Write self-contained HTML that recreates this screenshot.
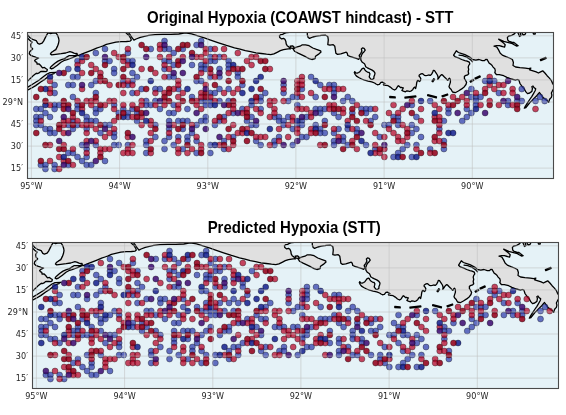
<!DOCTYPE html>
<html><head><meta charset="utf-8"><style>
html,body{margin:0;padding:0;background:#fff;}
svg{display:block;}
</style></head><body>
<svg width="566" height="415" viewBox="0 0 566 415">
<defs>
<clipPath id="clip"><rect x="27" y="32" width="527" height="147"/></clipPath>
<g id="base">
<rect x="27" y="32" width="526" height="146" fill="#e5f2f7"/>
<polygon points="15.0,15.0 15.0,35.2 27.9,35.2 29.7,37.5 32.5,39.3 36.2,40.7 37.8,43.4 39.4,44.1 42.1,43.2 43.6,41.1 45.2,37.9 46.8,34.8 47.8,33.2 48.9,32.9 50.5,33.7 52.6,33.2 54.7,32.9 56.3,33.4 57.6,35.3 58.7,38.5 59.0,40.6 58.4,43.8 57.4,46.4 55.8,49.6 53.6,50.9 51.3,52.6 50.4,54.0 51.7,54.9 55.7,54.4 61.2,53.7 65.7,53.0 69.9,51.6 71.7,52.1 74.0,53.2 75.8,53.7 77.0,53.4 77.2,55.0 78.3,55.6 82.9,53.7 87.5,51.9 92.0,50.1 96.6,48.2 100.0,47.0 103.2,45.9 106.4,44.3 110.6,43.3 115.9,42.2 121.2,41.7 126.5,41.5 130.2,41.1 131.3,40.1 130.8,38.5 129.2,35.8 127.0,33.7 125.5,32.3 125.5,15.0" fill="#e0e0e0" stroke="#000" stroke-width="1.3" stroke-linejoin="round"/>
<polygon points="15.0,38.0 27.5,38.0 29.7,40.2 32.0,42.1 30.7,44.8 31.1,47.1 32.7,48.9 31.6,50.0 29.7,51.8 29.3,53.7 30.7,55.3 33.4,56.4 36.2,57.3 38.6,58.0 36.4,59.1 34.6,60.5 35.3,61.6 36.8,62.3 37.1,64.1 38.9,63.8 40.4,65.2 41.8,67.0 42.6,67.8 44.4,67.4 45.8,68.5 47.3,69.6 47.0,71.0 45.8,71.7 43.6,71.5 41.5,71.3 40.4,71.7 38.6,73.2 37.1,73.6 36.4,73.2 35.0,74.3 32.8,76.1 30.6,78.3 28.4,80.4 27.0,81.9 15.0,88.0" fill="#e0e0e0" stroke="#000" stroke-width="1.3" stroke-linejoin="round"/>
<polygon points="15.0,96.0 27.0,87.6 32.5,84.2 38.9,80.3 43.6,76.6 47.0,74.0 50.0,72.6 55.9,72.3 54.5,73.3 51.6,74.5 48.7,76.3 45.2,79.1 40.7,82.0 35.7,85.6 31.3,88.2 27.0,90.4 15.0,97.0" fill="#e0e0e0" stroke="#000" stroke-width="1.3" stroke-linejoin="round"/>
<polygon points="50.1,68.1 50.9,66.7 54.6,63.5 58.0,61.1 61.4,59.6 64.5,58.6 67.1,56.9 68.9,55.7 72.1,55.6 75.4,55.4 77.2,55.0 77.2,55.7 75.8,56.2 73.1,57.3 70.3,58.5 67.1,59.6 64.6,60.3 61.0,62.3 57.4,65.2 53.8,67.8 51.6,68.9" fill="#e0e0e0" stroke="#000" stroke-width="1.3" stroke-linejoin="round"/>
<polygon points="128.1,15.0 128.1,32.3 129.7,34.2 131.8,37.4 133.9,40.1 136.1,39.0 140.3,37.4 144.5,36.4 148.8,35.3 153.0,34.8 155.0,34.7 162.9,34.4 170.9,34.4 178.8,34.0 185.2,32.8 191.6,33.8 197.9,35.8 204.3,37.9 210.6,40.1 218.6,42.8 226.5,45.4 234.5,47.8 240.0,49.1 245.3,50.7 250.6,51.7 255.9,52.8 261.2,53.5 266.5,54.2 270.8,54.6 273.9,53.9 277.1,52.3 280.3,50.7 283.5,49.6 286.7,49.1 289.8,48.6 290.4,48.9 289.0,47.1 287.2,45.7 286.2,43.9 285.8,41.2 284.9,39.3 283.5,38.4 281.7,38.9 279.8,37.5 279.4,35.7 280.7,34.7 282.6,34.3 284.4,33.4 287.2,32.5 291.7,32.0 294.0,15.0" fill="#e0e0e0" stroke="#000" stroke-width="1.3" stroke-linejoin="round"/>
<polygon points="293.1,48.9 296.3,47.1 300.0,46.2 302.3,44.8 305.5,44.8 309.1,45.7 312.8,48.0 316.5,49.4 320.6,50.8 321.0,52.1 318.3,54.4 315.5,56.3 315.1,58.6 311.9,59.5 309.1,58.6 305.5,56.7 301.8,54.9 298.1,53.1 294.5,51.2" fill="#e0e0e0" stroke="#000" stroke-width="1.3" stroke-linejoin="round"/>
<polygon points="290.2,46.2 292.5,45.8 294.0,47.0 293.0,48.3 291.0,48.2" fill="#e0e0e0" stroke="#000" stroke-width="1.3" stroke-linejoin="round"/>
<polygon points="307.3,15.0 307.3,34.7 308.2,37.5 309.6,38.4 312.8,37.0 316.5,36.1 320.1,35.7 321.3,35.4 325.6,35.2 327.8,36.5 328.3,39.8 327.8,44.6 329.9,45.2 333.2,44.6 334.8,46.3 335.4,50.1 335.9,53.3 337.5,54.4 340.8,53.9 344.0,52.8 346.2,52.2 347.3,53.3 347.8,55.5 350.5,56.6 353.8,57.7 357.0,58.7 358.7,59.3 359.8,57.7 359.2,55.5 360.8,53.3 361.9,51.1 361.4,49.0 362.5,47.9 364.1,48.4 365.2,50.1 364.1,51.7 362.5,53.3 361.4,55.5 360.8,57.7 360.9,60.2 362.3,62.3 364.5,63.8 365.2,65.2 365.6,66.7 367.4,67.8 369.5,68.9 371.7,69.9 373.9,71.4 375.0,73.2 374.6,75.0 373.9,76.8 373.9,78.3 372.8,79.3 371.0,79.3 369.9,77.9 369.2,76.8 369.5,75.7 369.9,73.9 369.2,72.5 367.4,72.1 365.9,71.0 364.8,69.9 364.5,68.9 363.4,68.1 362.3,68.5 361.2,69.9 360.1,71.4 358.7,72.5 357.2,73.2 355.8,72.8 354.7,71.7 354.3,72.5 355.1,74.3 356.5,76.1 358.7,77.5 361.6,79.0 364.5,80.1 368.1,81.1 371.7,81.9 374.6,83.0 376.0,84.0 377.5,84.8 378.0,84.6 379.4,84.3 380.9,82.4 382.3,82.1 383.8,82.8 384.9,83.5 383.4,84.6 383.8,85.3 386.0,85.3 388.1,85.7 390.3,87.1 392.5,89.0 394.6,90.0 396.1,89.0 397.2,87.1 398.3,85.7 399.3,86.4 400.4,87.5 401.9,87.5 403.3,87.9 402.6,89.3 401.9,90.4 403.3,91.1 405.5,91.8 406.9,90.8 408.4,91.1 409.8,91.5 411.3,90.8 412.7,89.7 413.8,87.9 414.9,87.1 415.6,88.6 416.3,85.7 416.7,82.8 417.4,80.6 418.0,80.4 418.3,80.4 419.3,81.5 420.4,80.8 420.8,78.6 420.1,77.2 419.0,76.1 419.3,75.0 420.8,73.9 422.2,73.6 423.3,74.3 424.4,75.4 425.8,75.7 427.3,75.4 428.7,75.0 430.2,75.4 431.6,74.3 432.7,72.1 433.4,70.3 434.5,70.7 436.0,72.9 437.4,75.0 438.1,77.2 437.8,79.4 438.9,77.9 440.0,76.1 441.4,74.7 442.5,75.0 443.9,76.5 445.4,77.9 446.8,79.4 447.9,80.4 448.6,79.0 449.4,78.3 450.4,79.4 450.4,82.3 449.7,84.4 449.0,86.6 449.7,88.0 451.2,89.5 451.9,90.9 452.6,92.0 455.2,92.7 458.4,91.0 461.7,88.9 464.4,86.7 466.0,84.5 466.6,82.4 465.5,80.2 464.4,78.6 464.4,76.4 466.0,75.3 467.7,74.8 468.7,73.7 468.2,71.5 468.7,69.3 468.2,67.1 468.7,65.5 469.8,63.9 469.3,62.2 467.1,61.1 464.9,60.6 461.7,59.5 458.4,57.9 455.2,56.8 453.6,55.2 456.3,50.8 458.4,52.5 461.7,53.6 464.9,54.6 468.2,56.3 470.9,57.9 472.5,59.5 475.8,60.1 479.0,59.5 482.3,60.6 484.5,60.6 485.6,59.5 487.2,59.5 488.3,61.7 489.3,63.3 491.0,64.4 492.1,65.5 493.1,67.1 494.8,68.7 495.3,70.9 494.8,72.5 496.4,74.7 499.3,74.6 503.7,75.7 506.9,77.4 511.3,79.0 515.6,80.1 517.2,79.5 518.9,80.1 519.9,83.3 522.1,86.5 524.3,89.2 525.9,91.9 527.5,93.6 529.7,93.0 531.9,91.4 532.4,88.7 531.9,86.5 533.0,86.0 534.0,87.6 535.7,88.7 535.1,90.8 533.5,93.6 531.9,96.3 529.7,99.5 527.5,102.8 525.4,106.0 524.3,108.2 525.9,107.7 527.5,105.5 529.7,102.8 531.9,100.6 534.0,98.4 536.2,96.3 538.4,93.6 539.5,92.5 540.6,94.1 542.7,97.4 544.9,99.0 547.1,100.6 548.7,102.2 549.2,100.6 549.8,99.0 551.4,97.4 551.9,95.2 551.4,93.0 552.5,90.8 553.6,88.7 565.0,86.0 565.0,84.0 553.6,84.9 552.5,83.3 551.4,80.6 549.2,77.9 547.1,75.7 544.9,73.0 542.7,70.8 540.6,71.9 538.4,73.0 536.2,71.9 533.0,70.8 529.7,69.8 530.8,68.1 528.6,68.7 525.4,68.1 519.9,67.6 515.6,67.0 513.0,65.5 513.4,62.5 512.4,59.5 509.5,58.0 505.9,56.6 502.3,55.1 500.1,53.0 498.7,50.1 497.2,47.6 495.8,46.5 494.0,46.1 496.5,45.7 499.4,45.7 502.3,46.5 504.5,47.2 505.2,44.7 504.1,43.6 502.3,42.1 498.7,39.2 500.9,40.0 503.7,41.4 506.6,42.1 509.5,42.9 512.4,43.6 514.6,45.0 516.8,46.1 518.2,45.7 516.8,44.7 515.3,43.6 513.9,42.5 511.7,42.1 509.2,41.4 507.7,40.0 507.4,37.4 508.8,36.0 511.7,35.3 513.9,34.2 516.0,32.0 517.0,15.0" fill="#e0e0e0" stroke="#000" stroke-width="1.3" stroke-linejoin="round"/>
<polygon points="389.8,97.5 395.2,97.9 395.2,96.9 389.8,96.5" fill="#e0e0e0" stroke="#000" stroke-width="1.3" stroke-linejoin="round"/>
<polygon points="405.1,98.1 415.9,96.9 415.7,95.9 404.9,97.1" fill="#e0e0e0" stroke="#000" stroke-width="1.3" stroke-linejoin="round"/>
<polygon points="427.6,95.6 436.3,97.9 436.5,96.9 427.8,94.6" fill="#e0e0e0" stroke="#000" stroke-width="1.3" stroke-linejoin="round"/>
<polygon points="442.4,96.8 447.8,95.0 447.4,94.0 442.0,95.8" fill="#e0e0e0" stroke="#000" stroke-width="1.3" stroke-linejoin="round"/>
<polygon points="433.8,78.7 432.0,81.2 432.8,81.8 434.6,79.3" fill="#e0e0e0" stroke="#000" stroke-width="1.3" stroke-linejoin="round"/>
<polygon points="470.7,82.2 473.8,80.2 473.2,79.4 470.1,81.4" fill="#e0e0e0" stroke="#000" stroke-width="1.3" stroke-linejoin="round"/>
<polygon points="475.4,79.1 480.3,76.9 479.9,75.9 475.0,78.1" fill="#e0e0e0" stroke="#000" stroke-width="1.3" stroke-linejoin="round"/>
<polygon points="540.8,60.7 546.2,58.4 545.8,57.4 540.4,59.7" fill="#e0e0e0" stroke="#000" stroke-width="1.3" stroke-linejoin="round"/>
<polygon points="533.0,32.5 535.5,32.5 535.0,34.2 533.5,34.0" fill="#e0e0e0" stroke="#000" stroke-width="1.3" stroke-linejoin="round"/>
<polygon points="517.5,32.0 520.0,32.0 521.0,35.5 519.5,36.5 518.5,34.0" fill="#e0e0e0" stroke="#000" stroke-width="1.3" stroke-linejoin="round"/>
<polygon points="521.5,32.0 526.2,32.0 525.0,34.5 523.0,35.0" fill="#e0e0e0" stroke="#000" stroke-width="1.3" stroke-linejoin="round"/>
<polyline points="459.0,55.2 462.8,55.7 466.0,56.8 468.7,58.4 470.9,60.1 472.5,61.7" fill="none" stroke="#000" stroke-width="1.3" stroke-linejoin="round" stroke-linecap="round"/>
</g>
</defs>
<rect width="566" height="415" fill="#fff"/>
<g transform="translate(0,0)">
<g clip-path="url(#clip)">
<use href="#base"/>
<g stroke="#000" stroke-opacity="0.55" stroke-width="0.6"><circle cx="164.52" cy="41.00" r="3.0" fill="#2e3aab" fill-opacity="0.72"/><circle cx="201.16" cy="41.00" r="3.0" fill="#2e3aab" fill-opacity="0.72"/><circle cx="196.58" cy="45.00" r="3.0" fill="#2e3aab" fill-opacity="0.72"/><circle cx="104.98" cy="49.00" r="3.0" fill="#2e3aab" fill-opacity="0.72"/><circle cx="150.78" cy="49.00" r="3.0" fill="#2e3aab" fill-opacity="0.72"/><circle cx="164.52" cy="49.00" r="3.0" fill="#2e3aab" fill-opacity="0.72"/><circle cx="169.10" cy="49.00" r="3.0" fill="#2e3aab" fill-opacity="0.72"/><circle cx="182.84" cy="49.00" r="3.0" fill="#2e3aab" fill-opacity="0.72"/><circle cx="210.32" cy="49.00" r="3.0" fill="#2e3aab" fill-opacity="0.72"/><circle cx="95.82" cy="53.00" r="3.0" fill="#2e3aab" fill-opacity="0.72"/><circle cx="127.88" cy="53.00" r="3.0" fill="#2e3aab" fill-opacity="0.72"/><circle cx="173.68" cy="53.00" r="3.0" fill="#2e3aab" fill-opacity="0.72"/><circle cx="210.32" cy="57.00" r="3.0" fill="#2e3aab" fill-opacity="0.72"/><circle cx="219.48" cy="57.00" r="3.0" fill="#2e3aab" fill-opacity="0.72"/><circle cx="77.50" cy="61.00" r="3.0" fill="#2e3aab" fill-opacity="0.72"/><circle cx="104.98" cy="61.00" r="3.0" fill="#2e3aab" fill-opacity="0.72"/><circle cx="109.56" cy="61.00" r="3.0" fill="#2e3aab" fill-opacity="0.72"/><circle cx="127.88" cy="61.00" r="3.0" fill="#2e3aab" fill-opacity="0.72"/><circle cx="132.46" cy="61.00" r="3.0" fill="#2e3aab" fill-opacity="0.72"/><circle cx="164.52" cy="61.00" r="3.0" fill="#2e3aab" fill-opacity="0.72"/><circle cx="169.10" cy="61.00" r="3.0" fill="#2e3aab" fill-opacity="0.72"/><circle cx="210.32" cy="61.00" r="3.0" fill="#2e3aab" fill-opacity="0.72"/><circle cx="214.90" cy="61.00" r="3.0" fill="#2e3aab" fill-opacity="0.72"/><circle cx="228.64" cy="61.00" r="3.0" fill="#2e3aab" fill-opacity="0.72"/><circle cx="173.68" cy="65.00" r="3.0" fill="#2e3aab" fill-opacity="0.72"/><circle cx="192.00" cy="65.00" r="3.0" fill="#2e3aab" fill-opacity="0.72"/><circle cx="201.16" cy="65.00" r="3.0" fill="#2e3aab" fill-opacity="0.72"/><circle cx="205.74" cy="65.00" r="3.0" fill="#2e3aab" fill-opacity="0.72"/><circle cx="228.64" cy="65.00" r="3.0" fill="#2e3aab" fill-opacity="0.72"/><circle cx="68.34" cy="69.00" r="3.0" fill="#2e3aab" fill-opacity="0.72"/><circle cx="114.14" cy="69.00" r="3.0" fill="#2e3aab" fill-opacity="0.72"/><circle cx="164.52" cy="69.00" r="3.0" fill="#2e3aab" fill-opacity="0.72"/><circle cx="201.16" cy="69.00" r="3.0" fill="#2e3aab" fill-opacity="0.72"/><circle cx="205.74" cy="69.00" r="3.0" fill="#2e3aab" fill-opacity="0.72"/><circle cx="219.48" cy="69.00" r="3.0" fill="#2e3aab" fill-opacity="0.72"/><circle cx="228.64" cy="69.00" r="3.0" fill="#2e3aab" fill-opacity="0.72"/><circle cx="114.14" cy="73.00" r="3.0" fill="#2e3aab" fill-opacity="0.72"/><circle cx="132.46" cy="73.00" r="3.0" fill="#2e3aab" fill-opacity="0.72"/><circle cx="237.80" cy="73.00" r="3.0" fill="#2e3aab" fill-opacity="0.72"/><circle cx="72.92" cy="77.00" r="3.0" fill="#2e3aab" fill-opacity="0.72"/><circle cx="77.50" cy="77.00" r="3.0" fill="#2e3aab" fill-opacity="0.72"/><circle cx="137.04" cy="77.00" r="3.0" fill="#2e3aab" fill-opacity="0.72"/><circle cx="169.10" cy="77.00" r="3.0" fill="#2e3aab" fill-opacity="0.72"/><circle cx="173.68" cy="77.00" r="3.0" fill="#2e3aab" fill-opacity="0.72"/><circle cx="210.32" cy="77.00" r="3.0" fill="#2e3aab" fill-opacity="0.72"/><circle cx="219.48" cy="77.00" r="3.0" fill="#2e3aab" fill-opacity="0.72"/><circle cx="237.80" cy="77.00" r="3.0" fill="#2e3aab" fill-opacity="0.72"/><circle cx="311.08" cy="77.00" r="3.0" fill="#2e3aab" fill-opacity="0.72"/><circle cx="95.82" cy="81.00" r="3.0" fill="#2e3aab" fill-opacity="0.72"/><circle cx="123.30" cy="81.00" r="3.0" fill="#2e3aab" fill-opacity="0.72"/><circle cx="132.46" cy="81.00" r="3.0" fill="#2e3aab" fill-opacity="0.72"/><circle cx="196.58" cy="81.00" r="3.0" fill="#2e3aab" fill-opacity="0.72"/><circle cx="201.16" cy="81.00" r="3.0" fill="#2e3aab" fill-opacity="0.72"/><circle cx="485.12" cy="81.00" r="3.0" fill="#2e3aab" fill-opacity="0.72"/><circle cx="494.28" cy="81.00" r="3.0" fill="#2e3aab" fill-opacity="0.72"/><circle cx="54.60" cy="85.00" r="3.0" fill="#2e3aab" fill-opacity="0.72"/><circle cx="68.34" cy="85.00" r="3.0" fill="#2e3aab" fill-opacity="0.72"/><circle cx="72.92" cy="85.00" r="3.0" fill="#2e3aab" fill-opacity="0.72"/><circle cx="91.24" cy="85.00" r="3.0" fill="#2e3aab" fill-opacity="0.72"/><circle cx="127.88" cy="85.00" r="3.0" fill="#2e3aab" fill-opacity="0.72"/><circle cx="242.38" cy="85.00" r="3.0" fill="#2e3aab" fill-opacity="0.72"/><circle cx="283.60" cy="85.00" r="3.0" fill="#2e3aab" fill-opacity="0.72"/><circle cx="320.24" cy="85.00" r="3.0" fill="#2e3aab" fill-opacity="0.72"/><circle cx="329.40" cy="85.00" r="3.0" fill="#2e3aab" fill-opacity="0.72"/><circle cx="333.98" cy="85.00" r="3.0" fill="#2e3aab" fill-opacity="0.72"/><circle cx="141.62" cy="89.00" r="3.0" fill="#2e3aab" fill-opacity="0.72"/><circle cx="155.36" cy="89.00" r="3.0" fill="#2e3aab" fill-opacity="0.72"/><circle cx="159.94" cy="89.00" r="3.0" fill="#2e3aab" fill-opacity="0.72"/><circle cx="178.26" cy="89.00" r="3.0" fill="#2e3aab" fill-opacity="0.72"/><circle cx="219.48" cy="89.00" r="3.0" fill="#2e3aab" fill-opacity="0.72"/><circle cx="228.64" cy="89.00" r="3.0" fill="#2e3aab" fill-opacity="0.72"/><circle cx="301.92" cy="89.00" r="3.0" fill="#2e3aab" fill-opacity="0.72"/><circle cx="333.98" cy="89.00" r="3.0" fill="#2e3aab" fill-opacity="0.72"/><circle cx="471.38" cy="89.00" r="3.0" fill="#2e3aab" fill-opacity="0.72"/><circle cx="521.76" cy="89.00" r="3.0" fill="#2e3aab" fill-opacity="0.72"/><circle cx="54.60" cy="93.00" r="3.0" fill="#2e3aab" fill-opacity="0.72"/><circle cx="95.82" cy="93.00" r="3.0" fill="#2e3aab" fill-opacity="0.72"/><circle cx="132.46" cy="93.00" r="3.0" fill="#2e3aab" fill-opacity="0.72"/><circle cx="210.32" cy="93.00" r="3.0" fill="#2e3aab" fill-opacity="0.72"/><circle cx="214.90" cy="93.00" r="3.0" fill="#2e3aab" fill-opacity="0.72"/><circle cx="265.28" cy="93.00" r="3.0" fill="#2e3aab" fill-opacity="0.72"/><circle cx="283.60" cy="93.00" r="3.0" fill="#2e3aab" fill-opacity="0.72"/><circle cx="333.98" cy="93.00" r="3.0" fill="#2e3aab" fill-opacity="0.72"/><circle cx="498.86" cy="93.00" r="3.0" fill="#2e3aab" fill-opacity="0.72"/><circle cx="72.92" cy="97.00" r="3.0" fill="#2e3aab" fill-opacity="0.72"/><circle cx="192.00" cy="97.00" r="3.0" fill="#2e3aab" fill-opacity="0.72"/><circle cx="260.70" cy="97.00" r="3.0" fill="#2e3aab" fill-opacity="0.72"/><circle cx="292.76" cy="97.00" r="3.0" fill="#2e3aab" fill-opacity="0.72"/><circle cx="297.34" cy="97.00" r="3.0" fill="#2e3aab" fill-opacity="0.72"/><circle cx="315.66" cy="97.00" r="3.0" fill="#2e3aab" fill-opacity="0.72"/><circle cx="347.72" cy="97.00" r="3.0" fill="#2e3aab" fill-opacity="0.72"/><circle cx="471.38" cy="97.00" r="3.0" fill="#2e3aab" fill-opacity="0.72"/><circle cx="475.96" cy="97.00" r="3.0" fill="#2e3aab" fill-opacity="0.72"/><circle cx="480.54" cy="97.00" r="3.0" fill="#2e3aab" fill-opacity="0.72"/><circle cx="540.08" cy="97.00" r="3.0" fill="#2e3aab" fill-opacity="0.72"/><circle cx="146.20" cy="101.00" r="3.0" fill="#2e3aab" fill-opacity="0.72"/><circle cx="155.36" cy="101.00" r="3.0" fill="#2e3aab" fill-opacity="0.72"/><circle cx="201.16" cy="101.00" r="3.0" fill="#2e3aab" fill-opacity="0.72"/><circle cx="205.74" cy="101.00" r="3.0" fill="#2e3aab" fill-opacity="0.72"/><circle cx="210.32" cy="101.00" r="3.0" fill="#2e3aab" fill-opacity="0.72"/><circle cx="219.48" cy="101.00" r="3.0" fill="#2e3aab" fill-opacity="0.72"/><circle cx="228.64" cy="101.00" r="3.0" fill="#2e3aab" fill-opacity="0.72"/><circle cx="260.70" cy="101.00" r="3.0" fill="#2e3aab" fill-opacity="0.72"/><circle cx="288.18" cy="101.00" r="3.0" fill="#2e3aab" fill-opacity="0.72"/><circle cx="343.14" cy="101.00" r="3.0" fill="#2e3aab" fill-opacity="0.72"/><circle cx="352.30" cy="101.00" r="3.0" fill="#2e3aab" fill-opacity="0.72"/><circle cx="430.16" cy="101.00" r="3.0" fill="#2e3aab" fill-opacity="0.72"/><circle cx="475.96" cy="101.00" r="3.0" fill="#2e3aab" fill-opacity="0.72"/><circle cx="508.02" cy="101.00" r="3.0" fill="#2e3aab" fill-opacity="0.72"/><circle cx="517.18" cy="101.00" r="3.0" fill="#2e3aab" fill-opacity="0.72"/><circle cx="521.76" cy="101.00" r="3.0" fill="#2e3aab" fill-opacity="0.72"/><circle cx="535.50" cy="101.00" r="3.0" fill="#2e3aab" fill-opacity="0.72"/><circle cx="544.66" cy="101.00" r="3.0" fill="#2e3aab" fill-opacity="0.72"/><circle cx="54.60" cy="105.00" r="3.0" fill="#2e3aab" fill-opacity="0.72"/><circle cx="59.18" cy="105.00" r="3.0" fill="#2e3aab" fill-opacity="0.72"/><circle cx="77.50" cy="105.00" r="3.0" fill="#2e3aab" fill-opacity="0.72"/><circle cx="114.14" cy="105.00" r="3.0" fill="#2e3aab" fill-opacity="0.72"/><circle cx="146.20" cy="105.00" r="3.0" fill="#2e3aab" fill-opacity="0.72"/><circle cx="150.78" cy="105.00" r="3.0" fill="#2e3aab" fill-opacity="0.72"/><circle cx="173.68" cy="105.00" r="3.0" fill="#2e3aab" fill-opacity="0.72"/><circle cx="205.74" cy="105.00" r="3.0" fill="#2e3aab" fill-opacity="0.72"/><circle cx="210.32" cy="105.00" r="3.0" fill="#2e3aab" fill-opacity="0.72"/><circle cx="251.54" cy="105.00" r="3.0" fill="#2e3aab" fill-opacity="0.72"/><circle cx="297.34" cy="105.00" r="3.0" fill="#2e3aab" fill-opacity="0.72"/><circle cx="411.84" cy="105.00" r="3.0" fill="#2e3aab" fill-opacity="0.72"/><circle cx="475.96" cy="105.00" r="3.0" fill="#2e3aab" fill-opacity="0.72"/><circle cx="508.02" cy="105.00" r="3.0" fill="#2e3aab" fill-opacity="0.72"/><circle cx="36.28" cy="109.00" r="3.0" fill="#2e3aab" fill-opacity="0.72"/><circle cx="40.86" cy="109.00" r="3.0" fill="#2e3aab" fill-opacity="0.72"/><circle cx="54.60" cy="109.00" r="3.0" fill="#2e3aab" fill-opacity="0.72"/><circle cx="77.50" cy="109.00" r="3.0" fill="#2e3aab" fill-opacity="0.72"/><circle cx="95.82" cy="109.00" r="3.0" fill="#2e3aab" fill-opacity="0.72"/><circle cx="100.40" cy="109.00" r="3.0" fill="#2e3aab" fill-opacity="0.72"/><circle cx="123.30" cy="109.00" r="3.0" fill="#2e3aab" fill-opacity="0.72"/><circle cx="132.46" cy="109.00" r="3.0" fill="#2e3aab" fill-opacity="0.72"/><circle cx="159.94" cy="109.00" r="3.0" fill="#2e3aab" fill-opacity="0.72"/><circle cx="187.42" cy="109.00" r="3.0" fill="#2e3aab" fill-opacity="0.72"/><circle cx="242.38" cy="109.00" r="3.0" fill="#2e3aab" fill-opacity="0.72"/><circle cx="260.70" cy="109.00" r="3.0" fill="#2e3aab" fill-opacity="0.72"/><circle cx="315.66" cy="109.00" r="3.0" fill="#2e3aab" fill-opacity="0.72"/><circle cx="320.24" cy="109.00" r="3.0" fill="#2e3aab" fill-opacity="0.72"/><circle cx="324.82" cy="109.00" r="3.0" fill="#2e3aab" fill-opacity="0.72"/><circle cx="361.46" cy="109.00" r="3.0" fill="#2e3aab" fill-opacity="0.72"/><circle cx="366.04" cy="109.00" r="3.0" fill="#2e3aab" fill-opacity="0.72"/><circle cx="370.62" cy="109.00" r="3.0" fill="#2e3aab" fill-opacity="0.72"/><circle cx="448.48" cy="109.00" r="3.0" fill="#2e3aab" fill-opacity="0.72"/><circle cx="466.80" cy="109.00" r="3.0" fill="#2e3aab" fill-opacity="0.72"/><circle cx="45.44" cy="113.00" r="3.0" fill="#2e3aab" fill-opacity="0.72"/><circle cx="95.82" cy="113.00" r="3.0" fill="#2e3aab" fill-opacity="0.72"/><circle cx="118.72" cy="113.00" r="3.0" fill="#2e3aab" fill-opacity="0.72"/><circle cx="127.88" cy="113.00" r="3.0" fill="#2e3aab" fill-opacity="0.72"/><circle cx="137.04" cy="113.00" r="3.0" fill="#2e3aab" fill-opacity="0.72"/><circle cx="169.10" cy="113.00" r="3.0" fill="#2e3aab" fill-opacity="0.72"/><circle cx="173.68" cy="113.00" r="3.0" fill="#2e3aab" fill-opacity="0.72"/><circle cx="233.22" cy="113.00" r="3.0" fill="#2e3aab" fill-opacity="0.72"/><circle cx="320.24" cy="113.00" r="3.0" fill="#2e3aab" fill-opacity="0.72"/><circle cx="333.98" cy="113.00" r="3.0" fill="#2e3aab" fill-opacity="0.72"/><circle cx="352.30" cy="113.00" r="3.0" fill="#2e3aab" fill-opacity="0.72"/><circle cx="366.04" cy="113.00" r="3.0" fill="#2e3aab" fill-opacity="0.72"/><circle cx="448.48" cy="113.00" r="3.0" fill="#2e3aab" fill-opacity="0.72"/><circle cx="471.38" cy="113.00" r="3.0" fill="#2e3aab" fill-opacity="0.72"/><circle cx="36.28" cy="117.00" r="3.0" fill="#2e3aab" fill-opacity="0.72"/><circle cx="40.86" cy="117.00" r="3.0" fill="#2e3aab" fill-opacity="0.72"/><circle cx="50.02" cy="117.00" r="3.0" fill="#2e3aab" fill-opacity="0.72"/><circle cx="86.66" cy="117.00" r="3.0" fill="#2e3aab" fill-opacity="0.72"/><circle cx="127.88" cy="117.00" r="3.0" fill="#2e3aab" fill-opacity="0.72"/><circle cx="205.74" cy="117.00" r="3.0" fill="#2e3aab" fill-opacity="0.72"/><circle cx="224.06" cy="117.00" r="3.0" fill="#2e3aab" fill-opacity="0.72"/><circle cx="251.54" cy="117.00" r="3.0" fill="#2e3aab" fill-opacity="0.72"/><circle cx="274.44" cy="117.00" r="3.0" fill="#2e3aab" fill-opacity="0.72"/><circle cx="279.02" cy="117.00" r="3.0" fill="#2e3aab" fill-opacity="0.72"/><circle cx="288.18" cy="117.00" r="3.0" fill="#2e3aab" fill-opacity="0.72"/><circle cx="306.50" cy="117.00" r="3.0" fill="#2e3aab" fill-opacity="0.72"/><circle cx="338.56" cy="117.00" r="3.0" fill="#2e3aab" fill-opacity="0.72"/><circle cx="375.20" cy="117.00" r="3.0" fill="#2e3aab" fill-opacity="0.72"/><circle cx="393.52" cy="117.00" r="3.0" fill="#2e3aab" fill-opacity="0.72"/><circle cx="398.10" cy="117.00" r="3.0" fill="#2e3aab" fill-opacity="0.72"/><circle cx="416.42" cy="117.00" r="3.0" fill="#2e3aab" fill-opacity="0.72"/><circle cx="466.80" cy="117.00" r="3.0" fill="#2e3aab" fill-opacity="0.72"/><circle cx="36.28" cy="121.00" r="3.0" fill="#2e3aab" fill-opacity="0.72"/><circle cx="72.92" cy="121.00" r="3.0" fill="#2e3aab" fill-opacity="0.72"/><circle cx="86.66" cy="121.00" r="3.0" fill="#2e3aab" fill-opacity="0.72"/><circle cx="91.24" cy="121.00" r="3.0" fill="#2e3aab" fill-opacity="0.72"/><circle cx="95.82" cy="121.00" r="3.0" fill="#2e3aab" fill-opacity="0.72"/><circle cx="137.04" cy="121.00" r="3.0" fill="#2e3aab" fill-opacity="0.72"/><circle cx="169.10" cy="121.00" r="3.0" fill="#2e3aab" fill-opacity="0.72"/><circle cx="178.26" cy="121.00" r="3.0" fill="#2e3aab" fill-opacity="0.72"/><circle cx="182.84" cy="121.00" r="3.0" fill="#2e3aab" fill-opacity="0.72"/><circle cx="187.42" cy="121.00" r="3.0" fill="#2e3aab" fill-opacity="0.72"/><circle cx="201.16" cy="121.00" r="3.0" fill="#2e3aab" fill-opacity="0.72"/><circle cx="205.74" cy="121.00" r="3.0" fill="#2e3aab" fill-opacity="0.72"/><circle cx="219.48" cy="121.00" r="3.0" fill="#2e3aab" fill-opacity="0.72"/><circle cx="246.96" cy="121.00" r="3.0" fill="#2e3aab" fill-opacity="0.72"/><circle cx="279.02" cy="121.00" r="3.0" fill="#2e3aab" fill-opacity="0.72"/><circle cx="283.60" cy="121.00" r="3.0" fill="#2e3aab" fill-opacity="0.72"/><circle cx="301.92" cy="121.00" r="3.0" fill="#2e3aab" fill-opacity="0.72"/><circle cx="324.82" cy="121.00" r="3.0" fill="#2e3aab" fill-opacity="0.72"/><circle cx="370.62" cy="121.00" r="3.0" fill="#2e3aab" fill-opacity="0.72"/><circle cx="398.10" cy="121.00" r="3.0" fill="#2e3aab" fill-opacity="0.72"/><circle cx="443.90" cy="121.00" r="3.0" fill="#2e3aab" fill-opacity="0.72"/><circle cx="462.22" cy="121.00" r="3.0" fill="#2e3aab" fill-opacity="0.72"/><circle cx="36.28" cy="125.00" r="3.0" fill="#2e3aab" fill-opacity="0.72"/><circle cx="40.86" cy="125.00" r="3.0" fill="#2e3aab" fill-opacity="0.72"/><circle cx="68.34" cy="125.00" r="3.0" fill="#2e3aab" fill-opacity="0.72"/><circle cx="77.50" cy="125.00" r="3.0" fill="#2e3aab" fill-opacity="0.72"/><circle cx="104.98" cy="125.00" r="3.0" fill="#2e3aab" fill-opacity="0.72"/><circle cx="109.56" cy="125.00" r="3.0" fill="#2e3aab" fill-opacity="0.72"/><circle cx="155.36" cy="125.00" r="3.0" fill="#2e3aab" fill-opacity="0.72"/><circle cx="196.58" cy="125.00" r="3.0" fill="#2e3aab" fill-opacity="0.72"/><circle cx="214.90" cy="125.00" r="3.0" fill="#2e3aab" fill-opacity="0.72"/><circle cx="251.54" cy="125.00" r="3.0" fill="#2e3aab" fill-opacity="0.72"/><circle cx="256.12" cy="125.00" r="3.0" fill="#2e3aab" fill-opacity="0.72"/><circle cx="283.60" cy="125.00" r="3.0" fill="#2e3aab" fill-opacity="0.72"/><circle cx="297.34" cy="125.00" r="3.0" fill="#2e3aab" fill-opacity="0.72"/><circle cx="301.92" cy="125.00" r="3.0" fill="#2e3aab" fill-opacity="0.72"/><circle cx="315.66" cy="125.00" r="3.0" fill="#2e3aab" fill-opacity="0.72"/><circle cx="384.36" cy="125.00" r="3.0" fill="#2e3aab" fill-opacity="0.72"/><circle cx="388.94" cy="125.00" r="3.0" fill="#2e3aab" fill-opacity="0.72"/><circle cx="398.10" cy="125.00" r="3.0" fill="#2e3aab" fill-opacity="0.72"/><circle cx="411.84" cy="125.00" r="3.0" fill="#2e3aab" fill-opacity="0.72"/><circle cx="45.44" cy="129.00" r="3.0" fill="#2e3aab" fill-opacity="0.72"/><circle cx="50.02" cy="129.00" r="3.0" fill="#2e3aab" fill-opacity="0.72"/><circle cx="72.92" cy="129.00" r="3.0" fill="#2e3aab" fill-opacity="0.72"/><circle cx="86.66" cy="129.00" r="3.0" fill="#2e3aab" fill-opacity="0.72"/><circle cx="169.10" cy="129.00" r="3.0" fill="#2e3aab" fill-opacity="0.72"/><circle cx="182.84" cy="129.00" r="3.0" fill="#2e3aab" fill-opacity="0.72"/><circle cx="292.76" cy="129.00" r="3.0" fill="#2e3aab" fill-opacity="0.72"/><circle cx="320.24" cy="129.00" r="3.0" fill="#2e3aab" fill-opacity="0.72"/><circle cx="338.56" cy="129.00" r="3.0" fill="#2e3aab" fill-opacity="0.72"/><circle cx="347.72" cy="129.00" r="3.0" fill="#2e3aab" fill-opacity="0.72"/><circle cx="356.88" cy="129.00" r="3.0" fill="#2e3aab" fill-opacity="0.72"/><circle cx="416.42" cy="129.00" r="3.0" fill="#2e3aab" fill-opacity="0.72"/><circle cx="439.32" cy="129.00" r="3.0" fill="#2e3aab" fill-opacity="0.72"/><circle cx="50.02" cy="133.00" r="3.0" fill="#2e3aab" fill-opacity="0.72"/><circle cx="54.60" cy="133.00" r="3.0" fill="#2e3aab" fill-opacity="0.72"/><circle cx="100.40" cy="133.00" r="3.0" fill="#2e3aab" fill-opacity="0.72"/><circle cx="114.14" cy="133.00" r="3.0" fill="#2e3aab" fill-opacity="0.72"/><circle cx="192.00" cy="133.00" r="3.0" fill="#2e3aab" fill-opacity="0.72"/><circle cx="320.24" cy="133.00" r="3.0" fill="#2e3aab" fill-opacity="0.72"/><circle cx="324.82" cy="133.00" r="3.0" fill="#2e3aab" fill-opacity="0.72"/><circle cx="333.98" cy="133.00" r="3.0" fill="#2e3aab" fill-opacity="0.72"/><circle cx="356.88" cy="133.00" r="3.0" fill="#2e3aab" fill-opacity="0.72"/><circle cx="411.84" cy="133.00" r="3.0" fill="#2e3aab" fill-opacity="0.72"/><circle cx="114.14" cy="137.00" r="3.0" fill="#2e3aab" fill-opacity="0.72"/><circle cx="155.36" cy="137.00" r="3.0" fill="#2e3aab" fill-opacity="0.72"/><circle cx="169.10" cy="137.00" r="3.0" fill="#2e3aab" fill-opacity="0.72"/><circle cx="178.26" cy="137.00" r="3.0" fill="#2e3aab" fill-opacity="0.72"/><circle cx="187.42" cy="137.00" r="3.0" fill="#2e3aab" fill-opacity="0.72"/><circle cx="233.22" cy="137.00" r="3.0" fill="#2e3aab" fill-opacity="0.72"/><circle cx="279.02" cy="137.00" r="3.0" fill="#2e3aab" fill-opacity="0.72"/><circle cx="301.92" cy="137.00" r="3.0" fill="#2e3aab" fill-opacity="0.72"/><circle cx="306.50" cy="137.00" r="3.0" fill="#2e3aab" fill-opacity="0.72"/><circle cx="343.14" cy="137.00" r="3.0" fill="#2e3aab" fill-opacity="0.72"/><circle cx="379.78" cy="137.00" r="3.0" fill="#2e3aab" fill-opacity="0.72"/><circle cx="421.00" cy="137.00" r="3.0" fill="#2e3aab" fill-opacity="0.72"/><circle cx="146.20" cy="141.00" r="3.0" fill="#2e3aab" fill-opacity="0.72"/><circle cx="164.52" cy="141.00" r="3.0" fill="#2e3aab" fill-opacity="0.72"/><circle cx="187.42" cy="141.00" r="3.0" fill="#2e3aab" fill-opacity="0.72"/><circle cx="196.58" cy="141.00" r="3.0" fill="#2e3aab" fill-opacity="0.72"/><circle cx="224.06" cy="141.00" r="3.0" fill="#2e3aab" fill-opacity="0.72"/><circle cx="256.12" cy="141.00" r="3.0" fill="#2e3aab" fill-opacity="0.72"/><circle cx="274.44" cy="141.00" r="3.0" fill="#2e3aab" fill-opacity="0.72"/><circle cx="333.98" cy="141.00" r="3.0" fill="#2e3aab" fill-opacity="0.72"/><circle cx="343.14" cy="141.00" r="3.0" fill="#2e3aab" fill-opacity="0.72"/><circle cx="443.90" cy="141.00" r="3.0" fill="#2e3aab" fill-opacity="0.72"/><circle cx="82.08" cy="145.00" r="3.0" fill="#2e3aab" fill-opacity="0.72"/><circle cx="95.82" cy="145.00" r="3.0" fill="#2e3aab" fill-opacity="0.72"/><circle cx="114.14" cy="145.00" r="3.0" fill="#2e3aab" fill-opacity="0.72"/><circle cx="118.72" cy="145.00" r="3.0" fill="#2e3aab" fill-opacity="0.72"/><circle cx="127.88" cy="145.00" r="3.0" fill="#2e3aab" fill-opacity="0.72"/><circle cx="146.20" cy="145.00" r="3.0" fill="#2e3aab" fill-opacity="0.72"/><circle cx="173.68" cy="145.00" r="3.0" fill="#2e3aab" fill-opacity="0.72"/><circle cx="210.32" cy="145.00" r="3.0" fill="#2e3aab" fill-opacity="0.72"/><circle cx="260.70" cy="145.00" r="3.0" fill="#2e3aab" fill-opacity="0.72"/><circle cx="274.44" cy="145.00" r="3.0" fill="#2e3aab" fill-opacity="0.72"/><circle cx="292.76" cy="145.00" r="3.0" fill="#2e3aab" fill-opacity="0.72"/><circle cx="333.98" cy="145.00" r="3.0" fill="#2e3aab" fill-opacity="0.72"/><circle cx="347.72" cy="145.00" r="3.0" fill="#2e3aab" fill-opacity="0.72"/><circle cx="366.04" cy="145.00" r="3.0" fill="#2e3aab" fill-opacity="0.72"/><circle cx="407.26" cy="145.00" r="3.0" fill="#2e3aab" fill-opacity="0.72"/><circle cx="416.42" cy="145.00" r="3.0" fill="#2e3aab" fill-opacity="0.72"/><circle cx="86.66" cy="149.00" r="3.0" fill="#2e3aab" fill-opacity="0.72"/><circle cx="164.52" cy="149.00" r="3.0" fill="#2e3aab" fill-opacity="0.72"/><circle cx="182.84" cy="149.00" r="3.0" fill="#2e3aab" fill-opacity="0.72"/><circle cx="224.06" cy="149.00" r="3.0" fill="#2e3aab" fill-opacity="0.72"/><circle cx="375.20" cy="149.00" r="3.0" fill="#2e3aab" fill-opacity="0.72"/><circle cx="402.68" cy="149.00" r="3.0" fill="#2e3aab" fill-opacity="0.72"/><circle cx="430.16" cy="149.00" r="3.0" fill="#2e3aab" fill-opacity="0.72"/><circle cx="443.90" cy="149.00" r="3.0" fill="#2e3aab" fill-opacity="0.72"/><circle cx="68.34" cy="153.00" r="3.0" fill="#2e3aab" fill-opacity="0.72"/><circle cx="72.92" cy="153.00" r="3.0" fill="#2e3aab" fill-opacity="0.72"/><circle cx="146.20" cy="153.00" r="3.0" fill="#2e3aab" fill-opacity="0.72"/><circle cx="196.58" cy="153.00" r="3.0" fill="#2e3aab" fill-opacity="0.72"/><circle cx="210.32" cy="153.00" r="3.0" fill="#2e3aab" fill-opacity="0.72"/><circle cx="398.10" cy="153.00" r="3.0" fill="#2e3aab" fill-opacity="0.72"/><circle cx="77.50" cy="157.00" r="3.0" fill="#2e3aab" fill-opacity="0.72"/><circle cx="86.66" cy="157.00" r="3.0" fill="#2e3aab" fill-opacity="0.72"/><circle cx="393.52" cy="157.00" r="3.0" fill="#2e3aab" fill-opacity="0.72"/><circle cx="411.84" cy="157.00" r="3.0" fill="#2e3aab" fill-opacity="0.72"/><circle cx="82.08" cy="161.00" r="3.0" fill="#2e3aab" fill-opacity="0.72"/><circle cx="104.98" cy="161.00" r="3.0" fill="#2e3aab" fill-opacity="0.72"/><circle cx="40.86" cy="165.00" r="3.0" fill="#2e3aab" fill-opacity="0.72"/><circle cx="45.44" cy="165.00" r="3.0" fill="#2e3aab" fill-opacity="0.72"/><circle cx="54.60" cy="165.00" r="3.0" fill="#2e3aab" fill-opacity="0.72"/><circle cx="68.34" cy="165.00" r="3.0" fill="#2e3aab" fill-opacity="0.72"/><circle cx="86.66" cy="165.00" r="3.0" fill="#2e3aab" fill-opacity="0.72"/><circle cx="91.24" cy="165.00" r="3.0" fill="#2e3aab" fill-opacity="0.72"/><circle cx="45.44" cy="169.00" r="3.0" fill="#2e3aab" fill-opacity="0.72"/><circle cx="54.60" cy="169.00" r="3.0" fill="#2e3aab" fill-opacity="0.72"/><circle cx="159.94" cy="45.00" r="3.0" fill="#b60024" fill-opacity="0.72"/><circle cx="127.88" cy="49.00" r="3.0" fill="#b60024" fill-opacity="0.72"/><circle cx="159.94" cy="49.00" r="3.0" fill="#b60024" fill-opacity="0.72"/><circle cx="205.74" cy="49.00" r="3.0" fill="#b60024" fill-opacity="0.72"/><circle cx="214.90" cy="49.00" r="3.0" fill="#b60024" fill-opacity="0.72"/><circle cx="224.06" cy="49.00" r="3.0" fill="#b60024" fill-opacity="0.72"/><circle cx="114.14" cy="53.00" r="3.0" fill="#b60024" fill-opacity="0.72"/><circle cx="205.74" cy="53.00" r="3.0" fill="#b60024" fill-opacity="0.72"/><circle cx="237.80" cy="53.00" r="3.0" fill="#b60024" fill-opacity="0.72"/><circle cx="118.72" cy="57.00" r="3.0" fill="#b60024" fill-opacity="0.72"/><circle cx="159.94" cy="57.00" r="3.0" fill="#b60024" fill-opacity="0.72"/><circle cx="169.10" cy="57.00" r="3.0" fill="#b60024" fill-opacity="0.72"/><circle cx="182.84" cy="57.00" r="3.0" fill="#b60024" fill-opacity="0.72"/><circle cx="196.58" cy="57.00" r="3.0" fill="#b60024" fill-opacity="0.72"/><circle cx="201.16" cy="57.00" r="3.0" fill="#b60024" fill-opacity="0.72"/><circle cx="214.90" cy="57.00" r="3.0" fill="#b60024" fill-opacity="0.72"/><circle cx="224.06" cy="57.00" r="3.0" fill="#b60024" fill-opacity="0.72"/><circle cx="251.54" cy="57.00" r="3.0" fill="#b60024" fill-opacity="0.72"/><circle cx="256.12" cy="57.00" r="3.0" fill="#b60024" fill-opacity="0.72"/><circle cx="82.08" cy="61.00" r="3.0" fill="#b60024" fill-opacity="0.72"/><circle cx="123.30" cy="61.00" r="3.0" fill="#b60024" fill-opacity="0.72"/><circle cx="205.74" cy="61.00" r="3.0" fill="#b60024" fill-opacity="0.72"/><circle cx="246.96" cy="61.00" r="3.0" fill="#b60024" fill-opacity="0.72"/><circle cx="77.50" cy="65.00" r="3.0" fill="#b60024" fill-opacity="0.72"/><circle cx="91.24" cy="65.00" r="3.0" fill="#b60024" fill-opacity="0.72"/><circle cx="127.88" cy="65.00" r="3.0" fill="#b60024" fill-opacity="0.72"/><circle cx="164.52" cy="65.00" r="3.0" fill="#b60024" fill-opacity="0.72"/><circle cx="251.54" cy="65.00" r="3.0" fill="#b60024" fill-opacity="0.72"/><circle cx="95.82" cy="69.00" r="3.0" fill="#b60024" fill-opacity="0.72"/><circle cx="141.62" cy="69.00" r="3.0" fill="#b60024" fill-opacity="0.72"/><circle cx="169.10" cy="69.00" r="3.0" fill="#b60024" fill-opacity="0.72"/><circle cx="237.80" cy="69.00" r="3.0" fill="#b60024" fill-opacity="0.72"/><circle cx="269.86" cy="69.00" r="3.0" fill="#b60024" fill-opacity="0.72"/><circle cx="82.08" cy="73.00" r="3.0" fill="#b60024" fill-opacity="0.72"/><circle cx="100.40" cy="73.00" r="3.0" fill="#b60024" fill-opacity="0.72"/><circle cx="155.36" cy="73.00" r="3.0" fill="#b60024" fill-opacity="0.72"/><circle cx="201.16" cy="73.00" r="3.0" fill="#b60024" fill-opacity="0.72"/><circle cx="210.32" cy="73.00" r="3.0" fill="#b60024" fill-opacity="0.72"/><circle cx="228.64" cy="73.00" r="3.0" fill="#b60024" fill-opacity="0.72"/><circle cx="164.52" cy="77.00" r="3.0" fill="#b60024" fill-opacity="0.72"/><circle cx="214.90" cy="77.00" r="3.0" fill="#b60024" fill-opacity="0.72"/><circle cx="301.92" cy="77.00" r="3.0" fill="#b60024" fill-opacity="0.72"/><circle cx="489.70" cy="77.00" r="3.0" fill="#b60024" fill-opacity="0.72"/><circle cx="50.02" cy="81.00" r="3.0" fill="#b60024" fill-opacity="0.72"/><circle cx="100.40" cy="81.00" r="3.0" fill="#b60024" fill-opacity="0.72"/><circle cx="127.88" cy="81.00" r="3.0" fill="#b60024" fill-opacity="0.72"/><circle cx="178.26" cy="81.00" r="3.0" fill="#b60024" fill-opacity="0.72"/><circle cx="297.34" cy="81.00" r="3.0" fill="#b60024" fill-opacity="0.72"/><circle cx="301.92" cy="81.00" r="3.0" fill="#b60024" fill-opacity="0.72"/><circle cx="109.56" cy="85.00" r="3.0" fill="#b60024" fill-opacity="0.72"/><circle cx="123.30" cy="85.00" r="3.0" fill="#b60024" fill-opacity="0.72"/><circle cx="132.46" cy="85.00" r="3.0" fill="#b60024" fill-opacity="0.72"/><circle cx="178.26" cy="85.00" r="3.0" fill="#b60024" fill-opacity="0.72"/><circle cx="205.74" cy="85.00" r="3.0" fill="#b60024" fill-opacity="0.72"/><circle cx="297.34" cy="85.00" r="3.0" fill="#b60024" fill-opacity="0.72"/><circle cx="301.92" cy="85.00" r="3.0" fill="#b60024" fill-opacity="0.72"/><circle cx="489.70" cy="85.00" r="3.0" fill="#b60024" fill-opacity="0.72"/><circle cx="498.86" cy="85.00" r="3.0" fill="#b60024" fill-opacity="0.72"/><circle cx="503.44" cy="85.00" r="3.0" fill="#b60024" fill-opacity="0.72"/><circle cx="50.02" cy="89.00" r="3.0" fill="#b60024" fill-opacity="0.72"/><circle cx="82.08" cy="89.00" r="3.0" fill="#b60024" fill-opacity="0.72"/><circle cx="173.68" cy="89.00" r="3.0" fill="#b60024" fill-opacity="0.72"/><circle cx="237.80" cy="89.00" r="3.0" fill="#b60024" fill-opacity="0.72"/><circle cx="283.60" cy="89.00" r="3.0" fill="#b60024" fill-opacity="0.72"/><circle cx="324.82" cy="89.00" r="3.0" fill="#b60024" fill-opacity="0.72"/><circle cx="329.40" cy="89.00" r="3.0" fill="#b60024" fill-opacity="0.72"/><circle cx="338.56" cy="89.00" r="3.0" fill="#b60024" fill-opacity="0.72"/><circle cx="343.14" cy="89.00" r="3.0" fill="#b60024" fill-opacity="0.72"/><circle cx="485.12" cy="89.00" r="3.0" fill="#b60024" fill-opacity="0.72"/><circle cx="494.28" cy="89.00" r="3.0" fill="#b60024" fill-opacity="0.72"/><circle cx="512.60" cy="89.00" r="3.0" fill="#b60024" fill-opacity="0.72"/><circle cx="50.02" cy="93.00" r="3.0" fill="#b60024" fill-opacity="0.72"/><circle cx="123.30" cy="93.00" r="3.0" fill="#b60024" fill-opacity="0.72"/><circle cx="137.04" cy="93.00" r="3.0" fill="#b60024" fill-opacity="0.72"/><circle cx="155.36" cy="93.00" r="3.0" fill="#b60024" fill-opacity="0.72"/><circle cx="164.52" cy="93.00" r="3.0" fill="#b60024" fill-opacity="0.72"/><circle cx="182.84" cy="93.00" r="3.0" fill="#b60024" fill-opacity="0.72"/><circle cx="201.16" cy="93.00" r="3.0" fill="#b60024" fill-opacity="0.72"/><circle cx="224.06" cy="93.00" r="3.0" fill="#b60024" fill-opacity="0.72"/><circle cx="233.22" cy="93.00" r="3.0" fill="#b60024" fill-opacity="0.72"/><circle cx="297.34" cy="93.00" r="3.0" fill="#b60024" fill-opacity="0.72"/><circle cx="311.08" cy="93.00" r="3.0" fill="#b60024" fill-opacity="0.72"/><circle cx="475.96" cy="93.00" r="3.0" fill="#b60024" fill-opacity="0.72"/><circle cx="503.44" cy="93.00" r="3.0" fill="#b60024" fill-opacity="0.72"/><circle cx="512.60" cy="93.00" r="3.0" fill="#b60024" fill-opacity="0.72"/><circle cx="178.26" cy="97.00" r="3.0" fill="#b60024" fill-opacity="0.72"/><circle cx="201.16" cy="97.00" r="3.0" fill="#b60024" fill-opacity="0.72"/><circle cx="210.32" cy="97.00" r="3.0" fill="#b60024" fill-opacity="0.72"/><circle cx="301.92" cy="97.00" r="3.0" fill="#b60024" fill-opacity="0.72"/><circle cx="453.06" cy="97.00" r="3.0" fill="#b60024" fill-opacity="0.72"/><circle cx="462.22" cy="97.00" r="3.0" fill="#b60024" fill-opacity="0.72"/><circle cx="77.50" cy="101.00" r="3.0" fill="#b60024" fill-opacity="0.72"/><circle cx="86.66" cy="101.00" r="3.0" fill="#b60024" fill-opacity="0.72"/><circle cx="91.24" cy="101.00" r="3.0" fill="#b60024" fill-opacity="0.72"/><circle cx="95.82" cy="101.00" r="3.0" fill="#b60024" fill-opacity="0.72"/><circle cx="109.56" cy="101.00" r="3.0" fill="#b60024" fill-opacity="0.72"/><circle cx="114.14" cy="101.00" r="3.0" fill="#b60024" fill-opacity="0.72"/><circle cx="141.62" cy="101.00" r="3.0" fill="#b60024" fill-opacity="0.72"/><circle cx="164.52" cy="101.00" r="3.0" fill="#b60024" fill-opacity="0.72"/><circle cx="196.58" cy="101.00" r="3.0" fill="#b60024" fill-opacity="0.72"/><circle cx="214.90" cy="101.00" r="3.0" fill="#b60024" fill-opacity="0.72"/><circle cx="256.12" cy="101.00" r="3.0" fill="#b60024" fill-opacity="0.72"/><circle cx="269.86" cy="101.00" r="3.0" fill="#b60024" fill-opacity="0.72"/><circle cx="274.44" cy="101.00" r="3.0" fill="#b60024" fill-opacity="0.72"/><circle cx="283.60" cy="101.00" r="3.0" fill="#b60024" fill-opacity="0.72"/><circle cx="411.84" cy="101.00" r="3.0" fill="#b60024" fill-opacity="0.72"/><circle cx="466.80" cy="101.00" r="3.0" fill="#b60024" fill-opacity="0.72"/><circle cx="489.70" cy="101.00" r="3.0" fill="#b60024" fill-opacity="0.72"/><circle cx="50.02" cy="105.00" r="3.0" fill="#b60024" fill-opacity="0.72"/><circle cx="63.76" cy="105.00" r="3.0" fill="#b60024" fill-opacity="0.72"/><circle cx="91.24" cy="105.00" r="3.0" fill="#b60024" fill-opacity="0.72"/><circle cx="104.98" cy="105.00" r="3.0" fill="#b60024" fill-opacity="0.72"/><circle cx="123.30" cy="105.00" r="3.0" fill="#b60024" fill-opacity="0.72"/><circle cx="132.46" cy="105.00" r="3.0" fill="#b60024" fill-opacity="0.72"/><circle cx="141.62" cy="105.00" r="3.0" fill="#b60024" fill-opacity="0.72"/><circle cx="155.36" cy="105.00" r="3.0" fill="#b60024" fill-opacity="0.72"/><circle cx="164.52" cy="105.00" r="3.0" fill="#b60024" fill-opacity="0.72"/><circle cx="178.26" cy="105.00" r="3.0" fill="#b60024" fill-opacity="0.72"/><circle cx="196.58" cy="105.00" r="3.0" fill="#b60024" fill-opacity="0.72"/><circle cx="233.22" cy="105.00" r="3.0" fill="#b60024" fill-opacity="0.72"/><circle cx="269.86" cy="105.00" r="3.0" fill="#b60024" fill-opacity="0.72"/><circle cx="329.40" cy="105.00" r="3.0" fill="#b60024" fill-opacity="0.72"/><circle cx="333.98" cy="105.00" r="3.0" fill="#b60024" fill-opacity="0.72"/><circle cx="356.88" cy="105.00" r="3.0" fill="#b60024" fill-opacity="0.72"/><circle cx="393.52" cy="105.00" r="3.0" fill="#b60024" fill-opacity="0.72"/><circle cx="434.74" cy="105.00" r="3.0" fill="#b60024" fill-opacity="0.72"/><circle cx="448.48" cy="105.00" r="3.0" fill="#b60024" fill-opacity="0.72"/><circle cx="466.80" cy="105.00" r="3.0" fill="#b60024" fill-opacity="0.72"/><circle cx="480.54" cy="105.00" r="3.0" fill="#b60024" fill-opacity="0.72"/><circle cx="498.86" cy="105.00" r="3.0" fill="#b60024" fill-opacity="0.72"/><circle cx="512.60" cy="105.00" r="3.0" fill="#b60024" fill-opacity="0.72"/><circle cx="82.08" cy="109.00" r="3.0" fill="#b60024" fill-opacity="0.72"/><circle cx="114.14" cy="109.00" r="3.0" fill="#b60024" fill-opacity="0.72"/><circle cx="178.26" cy="109.00" r="3.0" fill="#b60024" fill-opacity="0.72"/><circle cx="201.16" cy="109.00" r="3.0" fill="#b60024" fill-opacity="0.72"/><circle cx="233.22" cy="109.00" r="3.0" fill="#b60024" fill-opacity="0.72"/><circle cx="246.96" cy="109.00" r="3.0" fill="#b60024" fill-opacity="0.72"/><circle cx="256.12" cy="109.00" r="3.0" fill="#b60024" fill-opacity="0.72"/><circle cx="274.44" cy="109.00" r="3.0" fill="#b60024" fill-opacity="0.72"/><circle cx="297.34" cy="109.00" r="3.0" fill="#b60024" fill-opacity="0.72"/><circle cx="301.92" cy="109.00" r="3.0" fill="#b60024" fill-opacity="0.72"/><circle cx="306.50" cy="109.00" r="3.0" fill="#b60024" fill-opacity="0.72"/><circle cx="329.40" cy="109.00" r="3.0" fill="#b60024" fill-opacity="0.72"/><circle cx="343.14" cy="109.00" r="3.0" fill="#b60024" fill-opacity="0.72"/><circle cx="375.20" cy="109.00" r="3.0" fill="#b60024" fill-opacity="0.72"/><circle cx="402.68" cy="109.00" r="3.0" fill="#b60024" fill-opacity="0.72"/><circle cx="421.00" cy="109.00" r="3.0" fill="#b60024" fill-opacity="0.72"/><circle cx="439.32" cy="109.00" r="3.0" fill="#b60024" fill-opacity="0.72"/><circle cx="535.50" cy="109.00" r="3.0" fill="#b60024" fill-opacity="0.72"/><circle cx="228.64" cy="113.00" r="3.0" fill="#b60024" fill-opacity="0.72"/><circle cx="242.38" cy="113.00" r="3.0" fill="#b60024" fill-opacity="0.72"/><circle cx="260.70" cy="113.00" r="3.0" fill="#b60024" fill-opacity="0.72"/><circle cx="274.44" cy="113.00" r="3.0" fill="#b60024" fill-opacity="0.72"/><circle cx="311.08" cy="113.00" r="3.0" fill="#b60024" fill-opacity="0.72"/><circle cx="343.14" cy="113.00" r="3.0" fill="#b60024" fill-opacity="0.72"/><circle cx="388.94" cy="113.00" r="3.0" fill="#b60024" fill-opacity="0.72"/><circle cx="398.10" cy="113.00" r="3.0" fill="#b60024" fill-opacity="0.72"/><circle cx="72.92" cy="117.00" r="3.0" fill="#b60024" fill-opacity="0.72"/><circle cx="132.46" cy="117.00" r="3.0" fill="#b60024" fill-opacity="0.72"/><circle cx="141.62" cy="117.00" r="3.0" fill="#b60024" fill-opacity="0.72"/><circle cx="269.86" cy="117.00" r="3.0" fill="#b60024" fill-opacity="0.72"/><circle cx="292.76" cy="117.00" r="3.0" fill="#b60024" fill-opacity="0.72"/><circle cx="311.08" cy="117.00" r="3.0" fill="#b60024" fill-opacity="0.72"/><circle cx="434.74" cy="117.00" r="3.0" fill="#b60024" fill-opacity="0.72"/><circle cx="439.32" cy="117.00" r="3.0" fill="#b60024" fill-opacity="0.72"/><circle cx="40.86" cy="121.00" r="3.0" fill="#b60024" fill-opacity="0.72"/><circle cx="63.76" cy="121.00" r="3.0" fill="#b60024" fill-opacity="0.72"/><circle cx="68.34" cy="121.00" r="3.0" fill="#b60024" fill-opacity="0.72"/><circle cx="77.50" cy="121.00" r="3.0" fill="#b60024" fill-opacity="0.72"/><circle cx="114.14" cy="121.00" r="3.0" fill="#b60024" fill-opacity="0.72"/><circle cx="150.78" cy="121.00" r="3.0" fill="#b60024" fill-opacity="0.72"/><circle cx="214.90" cy="121.00" r="3.0" fill="#b60024" fill-opacity="0.72"/><circle cx="224.06" cy="121.00" r="3.0" fill="#b60024" fill-opacity="0.72"/><circle cx="292.76" cy="121.00" r="3.0" fill="#b60024" fill-opacity="0.72"/><circle cx="347.72" cy="121.00" r="3.0" fill="#b60024" fill-opacity="0.72"/><circle cx="366.04" cy="121.00" r="3.0" fill="#b60024" fill-opacity="0.72"/><circle cx="421.00" cy="121.00" r="3.0" fill="#b60024" fill-opacity="0.72"/><circle cx="439.32" cy="121.00" r="3.0" fill="#b60024" fill-opacity="0.72"/><circle cx="63.76" cy="125.00" r="3.0" fill="#b60024" fill-opacity="0.72"/><circle cx="82.08" cy="125.00" r="3.0" fill="#b60024" fill-opacity="0.72"/><circle cx="86.66" cy="125.00" r="3.0" fill="#b60024" fill-opacity="0.72"/><circle cx="91.24" cy="125.00" r="3.0" fill="#b60024" fill-opacity="0.72"/><circle cx="141.62" cy="125.00" r="3.0" fill="#b60024" fill-opacity="0.72"/><circle cx="150.78" cy="125.00" r="3.0" fill="#b60024" fill-opacity="0.72"/><circle cx="173.68" cy="125.00" r="3.0" fill="#b60024" fill-opacity="0.72"/><circle cx="192.00" cy="125.00" r="3.0" fill="#b60024" fill-opacity="0.72"/><circle cx="233.22" cy="125.00" r="3.0" fill="#b60024" fill-opacity="0.72"/><circle cx="288.18" cy="125.00" r="3.0" fill="#b60024" fill-opacity="0.72"/><circle cx="402.68" cy="125.00" r="3.0" fill="#b60024" fill-opacity="0.72"/><circle cx="439.32" cy="125.00" r="3.0" fill="#b60024" fill-opacity="0.72"/><circle cx="95.82" cy="129.00" r="3.0" fill="#b60024" fill-opacity="0.72"/><circle cx="114.14" cy="129.00" r="3.0" fill="#b60024" fill-opacity="0.72"/><circle cx="246.96" cy="129.00" r="3.0" fill="#b60024" fill-opacity="0.72"/><circle cx="279.02" cy="129.00" r="3.0" fill="#b60024" fill-opacity="0.72"/><circle cx="297.34" cy="129.00" r="3.0" fill="#b60024" fill-opacity="0.72"/><circle cx="311.08" cy="129.00" r="3.0" fill="#b60024" fill-opacity="0.72"/><circle cx="333.98" cy="129.00" r="3.0" fill="#b60024" fill-opacity="0.72"/><circle cx="352.30" cy="129.00" r="3.0" fill="#b60024" fill-opacity="0.72"/><circle cx="388.94" cy="129.00" r="3.0" fill="#b60024" fill-opacity="0.72"/><circle cx="407.26" cy="129.00" r="3.0" fill="#b60024" fill-opacity="0.72"/><circle cx="63.76" cy="133.00" r="3.0" fill="#b60024" fill-opacity="0.72"/><circle cx="86.66" cy="133.00" r="3.0" fill="#b60024" fill-opacity="0.72"/><circle cx="109.56" cy="133.00" r="3.0" fill="#b60024" fill-opacity="0.72"/><circle cx="150.78" cy="133.00" r="3.0" fill="#b60024" fill-opacity="0.72"/><circle cx="169.10" cy="133.00" r="3.0" fill="#b60024" fill-opacity="0.72"/><circle cx="237.80" cy="133.00" r="3.0" fill="#b60024" fill-opacity="0.72"/><circle cx="242.38" cy="133.00" r="3.0" fill="#b60024" fill-opacity="0.72"/><circle cx="297.34" cy="133.00" r="3.0" fill="#b60024" fill-opacity="0.72"/><circle cx="311.08" cy="133.00" r="3.0" fill="#b60024" fill-opacity="0.72"/><circle cx="375.20" cy="133.00" r="3.0" fill="#b60024" fill-opacity="0.72"/><circle cx="393.52" cy="133.00" r="3.0" fill="#b60024" fill-opacity="0.72"/><circle cx="439.32" cy="133.00" r="3.0" fill="#b60024" fill-opacity="0.72"/><circle cx="104.98" cy="137.00" r="3.0" fill="#b60024" fill-opacity="0.72"/><circle cx="127.88" cy="137.00" r="3.0" fill="#b60024" fill-opacity="0.72"/><circle cx="196.58" cy="137.00" r="3.0" fill="#b60024" fill-opacity="0.72"/><circle cx="228.64" cy="137.00" r="3.0" fill="#b60024" fill-opacity="0.72"/><circle cx="256.12" cy="137.00" r="3.0" fill="#b60024" fill-opacity="0.72"/><circle cx="260.70" cy="137.00" r="3.0" fill="#b60024" fill-opacity="0.72"/><circle cx="265.28" cy="137.00" r="3.0" fill="#b60024" fill-opacity="0.72"/><circle cx="288.18" cy="137.00" r="3.0" fill="#b60024" fill-opacity="0.72"/><circle cx="338.56" cy="137.00" r="3.0" fill="#b60024" fill-opacity="0.72"/><circle cx="384.36" cy="137.00" r="3.0" fill="#b60024" fill-opacity="0.72"/><circle cx="398.10" cy="137.00" r="3.0" fill="#b60024" fill-opacity="0.72"/><circle cx="407.26" cy="137.00" r="3.0" fill="#b60024" fill-opacity="0.72"/><circle cx="86.66" cy="141.00" r="3.0" fill="#b60024" fill-opacity="0.72"/><circle cx="95.82" cy="141.00" r="3.0" fill="#b60024" fill-opacity="0.72"/><circle cx="150.78" cy="141.00" r="3.0" fill="#b60024" fill-opacity="0.72"/><circle cx="178.26" cy="141.00" r="3.0" fill="#b60024" fill-opacity="0.72"/><circle cx="279.02" cy="141.00" r="3.0" fill="#b60024" fill-opacity="0.72"/><circle cx="352.30" cy="141.00" r="3.0" fill="#b60024" fill-opacity="0.72"/><circle cx="398.10" cy="141.00" r="3.0" fill="#b60024" fill-opacity="0.72"/><circle cx="402.68" cy="141.00" r="3.0" fill="#b60024" fill-opacity="0.72"/><circle cx="434.74" cy="141.00" r="3.0" fill="#b60024" fill-opacity="0.72"/><circle cx="439.32" cy="141.00" r="3.0" fill="#b60024" fill-opacity="0.72"/><circle cx="50.02" cy="145.00" r="3.0" fill="#b60024" fill-opacity="0.72"/><circle cx="63.76" cy="145.00" r="3.0" fill="#b60024" fill-opacity="0.72"/><circle cx="132.46" cy="145.00" r="3.0" fill="#b60024" fill-opacity="0.72"/><circle cx="201.16" cy="145.00" r="3.0" fill="#b60024" fill-opacity="0.72"/><circle cx="219.48" cy="145.00" r="3.0" fill="#b60024" fill-opacity="0.72"/><circle cx="233.22" cy="145.00" r="3.0" fill="#b60024" fill-opacity="0.72"/><circle cx="269.86" cy="145.00" r="3.0" fill="#b60024" fill-opacity="0.72"/><circle cx="320.24" cy="145.00" r="3.0" fill="#b60024" fill-opacity="0.72"/><circle cx="375.20" cy="145.00" r="3.0" fill="#b60024" fill-opacity="0.72"/><circle cx="72.92" cy="149.00" r="3.0" fill="#b60024" fill-opacity="0.72"/><circle cx="100.40" cy="149.00" r="3.0" fill="#b60024" fill-opacity="0.72"/><circle cx="104.98" cy="149.00" r="3.0" fill="#b60024" fill-opacity="0.72"/><circle cx="109.56" cy="149.00" r="3.0" fill="#b60024" fill-opacity="0.72"/><circle cx="127.88" cy="149.00" r="3.0" fill="#b60024" fill-opacity="0.72"/><circle cx="178.26" cy="149.00" r="3.0" fill="#b60024" fill-opacity="0.72"/><circle cx="192.00" cy="149.00" r="3.0" fill="#b60024" fill-opacity="0.72"/><circle cx="201.16" cy="149.00" r="3.0" fill="#b60024" fill-opacity="0.72"/><circle cx="228.64" cy="149.00" r="3.0" fill="#b60024" fill-opacity="0.72"/><circle cx="356.88" cy="149.00" r="3.0" fill="#b60024" fill-opacity="0.72"/><circle cx="384.36" cy="149.00" r="3.0" fill="#b60024" fill-opacity="0.72"/><circle cx="416.42" cy="149.00" r="3.0" fill="#b60024" fill-opacity="0.72"/><circle cx="86.66" cy="153.00" r="3.0" fill="#b60024" fill-opacity="0.72"/><circle cx="100.40" cy="153.00" r="3.0" fill="#b60024" fill-opacity="0.72"/><circle cx="123.30" cy="153.00" r="3.0" fill="#b60024" fill-opacity="0.72"/><circle cx="127.88" cy="153.00" r="3.0" fill="#b60024" fill-opacity="0.72"/><circle cx="132.46" cy="153.00" r="3.0" fill="#b60024" fill-opacity="0.72"/><circle cx="150.78" cy="153.00" r="3.0" fill="#b60024" fill-opacity="0.72"/><circle cx="178.26" cy="153.00" r="3.0" fill="#b60024" fill-opacity="0.72"/><circle cx="187.42" cy="153.00" r="3.0" fill="#b60024" fill-opacity="0.72"/><circle cx="375.20" cy="153.00" r="3.0" fill="#b60024" fill-opacity="0.72"/><circle cx="379.78" cy="153.00" r="3.0" fill="#b60024" fill-opacity="0.72"/><circle cx="430.16" cy="153.00" r="3.0" fill="#b60024" fill-opacity="0.72"/><circle cx="59.18" cy="157.00" r="3.0" fill="#b60024" fill-opacity="0.72"/><circle cx="384.36" cy="157.00" r="3.0" fill="#b60024" fill-opacity="0.72"/><circle cx="50.02" cy="161.00" r="3.0" fill="#b60024" fill-opacity="0.72"/><circle cx="63.76" cy="161.00" r="3.0" fill="#b60024" fill-opacity="0.72"/><circle cx="72.92" cy="165.00" r="3.0" fill="#b60024" fill-opacity="0.72"/><circle cx="59.18" cy="169.00" r="3.0" fill="#b60024" fill-opacity="0.72"/><circle cx="82.08" cy="57.00" r="3.0" fill="#141e8c" fill-opacity="0.85"/><circle cx="132.46" cy="65.00" r="3.0" fill="#141e8c" fill-opacity="0.85"/><circle cx="233.22" cy="65.00" r="3.0" fill="#141e8c" fill-opacity="0.85"/><circle cx="77.50" cy="69.00" r="3.0" fill="#141e8c" fill-opacity="0.85"/><circle cx="50.02" cy="77.00" r="3.0" fill="#141e8c" fill-opacity="0.85"/><circle cx="260.70" cy="77.00" r="3.0" fill="#141e8c" fill-opacity="0.85"/><circle cx="150.78" cy="81.00" r="3.0" fill="#141e8c" fill-opacity="0.85"/><circle cx="256.12" cy="81.00" r="3.0" fill="#141e8c" fill-opacity="0.85"/><circle cx="315.66" cy="81.00" r="3.0" fill="#141e8c" fill-opacity="0.85"/><circle cx="489.70" cy="81.00" r="3.0" fill="#141e8c" fill-opacity="0.85"/><circle cx="45.44" cy="89.00" r="3.0" fill="#141e8c" fill-opacity="0.85"/><circle cx="187.42" cy="89.00" r="3.0" fill="#141e8c" fill-opacity="0.85"/><circle cx="251.54" cy="89.00" r="3.0" fill="#141e8c" fill-opacity="0.85"/><circle cx="242.38" cy="93.00" r="3.0" fill="#141e8c" fill-opacity="0.85"/><circle cx="251.54" cy="101.00" r="3.0" fill="#141e8c" fill-opacity="0.85"/><circle cx="421.00" cy="101.00" r="3.0" fill="#141e8c" fill-opacity="0.85"/><circle cx="45.44" cy="105.00" r="3.0" fill="#141e8c" fill-opacity="0.85"/><circle cx="214.90" cy="105.00" r="3.0" fill="#141e8c" fill-opacity="0.85"/><circle cx="475.96" cy="109.00" r="3.0" fill="#141e8c" fill-opacity="0.85"/><circle cx="82.08" cy="113.00" r="3.0" fill="#141e8c" fill-opacity="0.85"/><circle cx="434.74" cy="113.00" r="3.0" fill="#141e8c" fill-opacity="0.85"/><circle cx="123.30" cy="117.00" r="3.0" fill="#141e8c" fill-opacity="0.85"/><circle cx="146.20" cy="121.00" r="3.0" fill="#141e8c" fill-opacity="0.85"/><circle cx="297.34" cy="121.00" r="3.0" fill="#141e8c" fill-opacity="0.85"/><circle cx="347.72" cy="125.00" r="3.0" fill="#141e8c" fill-opacity="0.85"/><circle cx="269.86" cy="129.00" r="3.0" fill="#141e8c" fill-opacity="0.85"/><circle cx="315.66" cy="129.00" r="3.0" fill="#141e8c" fill-opacity="0.85"/><circle cx="246.96" cy="133.00" r="3.0" fill="#141e8c" fill-opacity="0.85"/><circle cx="448.48" cy="133.00" r="3.0" fill="#141e8c" fill-opacity="0.85"/><circle cx="453.06" cy="133.00" r="3.0" fill="#141e8c" fill-opacity="0.85"/><circle cx="361.46" cy="141.00" r="3.0" fill="#141e8c" fill-opacity="0.85"/><circle cx="214.90" cy="145.00" r="3.0" fill="#141e8c" fill-opacity="0.85"/><circle cx="370.62" cy="153.00" r="3.0" fill="#141e8c" fill-opacity="0.85"/><circle cx="63.76" cy="157.00" r="3.0" fill="#141e8c" fill-opacity="0.85"/><circle cx="398.10" cy="157.00" r="3.0" fill="#141e8c" fill-opacity="0.85"/><circle cx="416.42" cy="157.00" r="3.0" fill="#141e8c" fill-opacity="0.85"/><circle cx="141.62" cy="45.00" r="3.0" fill="#94001a" fill-opacity="0.87"/><circle cx="182.84" cy="45.00" r="3.0" fill="#94001a" fill-opacity="0.87"/><circle cx="187.42" cy="45.00" r="3.0" fill="#94001a" fill-opacity="0.87"/><circle cx="146.20" cy="49.00" r="3.0" fill="#94001a" fill-opacity="0.87"/><circle cx="178.26" cy="49.00" r="3.0" fill="#94001a" fill-opacity="0.87"/><circle cx="192.00" cy="53.00" r="3.0" fill="#94001a" fill-opacity="0.87"/><circle cx="86.66" cy="57.00" r="3.0" fill="#94001a" fill-opacity="0.87"/><circle cx="123.30" cy="57.00" r="3.0" fill="#94001a" fill-opacity="0.87"/><circle cx="178.26" cy="61.00" r="3.0" fill="#94001a" fill-opacity="0.87"/><circle cx="260.70" cy="61.00" r="3.0" fill="#94001a" fill-opacity="0.87"/><circle cx="265.28" cy="61.00" r="3.0" fill="#94001a" fill-opacity="0.87"/><circle cx="104.98" cy="65.00" r="3.0" fill="#94001a" fill-opacity="0.87"/><circle cx="178.26" cy="65.00" r="3.0" fill="#94001a" fill-opacity="0.87"/><circle cx="123.30" cy="69.00" r="3.0" fill="#94001a" fill-opacity="0.87"/><circle cx="150.78" cy="69.00" r="3.0" fill="#94001a" fill-opacity="0.87"/><circle cx="210.32" cy="69.00" r="3.0" fill="#94001a" fill-opacity="0.87"/><circle cx="233.22" cy="69.00" r="3.0" fill="#94001a" fill-opacity="0.87"/><circle cx="242.38" cy="69.00" r="3.0" fill="#94001a" fill-opacity="0.87"/><circle cx="265.28" cy="69.00" r="3.0" fill="#94001a" fill-opacity="0.87"/><circle cx="63.76" cy="73.00" r="3.0" fill="#94001a" fill-opacity="0.87"/><circle cx="91.24" cy="73.00" r="3.0" fill="#94001a" fill-opacity="0.87"/><circle cx="100.40" cy="77.00" r="3.0" fill="#94001a" fill-opacity="0.87"/><circle cx="123.30" cy="77.00" r="3.0" fill="#94001a" fill-opacity="0.87"/><circle cx="196.58" cy="77.00" r="3.0" fill="#94001a" fill-opacity="0.87"/><circle cx="104.98" cy="81.00" r="3.0" fill="#94001a" fill-opacity="0.87"/><circle cx="228.64" cy="81.00" r="3.0" fill="#94001a" fill-opacity="0.87"/><circle cx="242.38" cy="81.00" r="3.0" fill="#94001a" fill-opacity="0.87"/><circle cx="118.72" cy="85.00" r="3.0" fill="#94001a" fill-opacity="0.87"/><circle cx="214.90" cy="85.00" r="3.0" fill="#94001a" fill-opacity="0.87"/><circle cx="40.86" cy="89.00" r="3.0" fill="#94001a" fill-opacity="0.87"/><circle cx="146.20" cy="89.00" r="3.0" fill="#94001a" fill-opacity="0.87"/><circle cx="169.10" cy="89.00" r="3.0" fill="#94001a" fill-opacity="0.87"/><circle cx="260.70" cy="89.00" r="3.0" fill="#94001a" fill-opacity="0.87"/><circle cx="297.34" cy="89.00" r="3.0" fill="#94001a" fill-opacity="0.87"/><circle cx="169.10" cy="93.00" r="3.0" fill="#94001a" fill-opacity="0.87"/><circle cx="205.74" cy="93.00" r="3.0" fill="#94001a" fill-opacity="0.87"/><circle cx="485.12" cy="93.00" r="3.0" fill="#94001a" fill-opacity="0.87"/><circle cx="36.28" cy="97.00" r="3.0" fill="#94001a" fill-opacity="0.87"/><circle cx="95.82" cy="97.00" r="3.0" fill="#94001a" fill-opacity="0.87"/><circle cx="164.52" cy="97.00" r="3.0" fill="#94001a" fill-opacity="0.87"/><circle cx="205.74" cy="97.00" r="3.0" fill="#94001a" fill-opacity="0.87"/><circle cx="256.12" cy="97.00" r="3.0" fill="#94001a" fill-opacity="0.87"/><circle cx="324.82" cy="97.00" r="3.0" fill="#94001a" fill-opacity="0.87"/><circle cx="45.44" cy="101.00" r="3.0" fill="#94001a" fill-opacity="0.87"/><circle cx="63.76" cy="101.00" r="3.0" fill="#94001a" fill-opacity="0.87"/><circle cx="169.10" cy="101.00" r="3.0" fill="#94001a" fill-opacity="0.87"/><circle cx="182.84" cy="101.00" r="3.0" fill="#94001a" fill-opacity="0.87"/><circle cx="192.00" cy="101.00" r="3.0" fill="#94001a" fill-opacity="0.87"/><circle cx="233.22" cy="101.00" r="3.0" fill="#94001a" fill-opacity="0.87"/><circle cx="443.90" cy="101.00" r="3.0" fill="#94001a" fill-opacity="0.87"/><circle cx="457.64" cy="101.00" r="3.0" fill="#94001a" fill-opacity="0.87"/><circle cx="68.34" cy="105.00" r="3.0" fill="#94001a" fill-opacity="0.87"/><circle cx="82.08" cy="105.00" r="3.0" fill="#94001a" fill-opacity="0.87"/><circle cx="100.40" cy="105.00" r="3.0" fill="#94001a" fill-opacity="0.87"/><circle cx="228.64" cy="105.00" r="3.0" fill="#94001a" fill-opacity="0.87"/><circle cx="453.06" cy="105.00" r="3.0" fill="#94001a" fill-opacity="0.87"/><circle cx="489.70" cy="105.00" r="3.0" fill="#94001a" fill-opacity="0.87"/><circle cx="517.18" cy="105.00" r="3.0" fill="#94001a" fill-opacity="0.87"/><circle cx="63.76" cy="109.00" r="3.0" fill="#94001a" fill-opacity="0.87"/><circle cx="137.04" cy="109.00" r="3.0" fill="#94001a" fill-opacity="0.87"/><circle cx="333.98" cy="109.00" r="3.0" fill="#94001a" fill-opacity="0.87"/><circle cx="338.56" cy="109.00" r="3.0" fill="#94001a" fill-opacity="0.87"/><circle cx="352.30" cy="109.00" r="3.0" fill="#94001a" fill-opacity="0.87"/><circle cx="517.18" cy="109.00" r="3.0" fill="#94001a" fill-opacity="0.87"/><circle cx="72.92" cy="113.00" r="3.0" fill="#94001a" fill-opacity="0.87"/><circle cx="123.30" cy="113.00" r="3.0" fill="#94001a" fill-opacity="0.87"/><circle cx="141.62" cy="113.00" r="3.0" fill="#94001a" fill-opacity="0.87"/><circle cx="246.96" cy="113.00" r="3.0" fill="#94001a" fill-opacity="0.87"/><circle cx="361.46" cy="113.00" r="3.0" fill="#94001a" fill-opacity="0.87"/><circle cx="411.84" cy="113.00" r="3.0" fill="#94001a" fill-opacity="0.87"/><circle cx="118.72" cy="117.00" r="3.0" fill="#94001a" fill-opacity="0.87"/><circle cx="137.04" cy="117.00" r="3.0" fill="#94001a" fill-opacity="0.87"/><circle cx="219.48" cy="117.00" r="3.0" fill="#94001a" fill-opacity="0.87"/><circle cx="246.96" cy="117.00" r="3.0" fill="#94001a" fill-opacity="0.87"/><circle cx="352.30" cy="117.00" r="3.0" fill="#94001a" fill-opacity="0.87"/><circle cx="356.88" cy="121.00" r="3.0" fill="#94001a" fill-opacity="0.87"/><circle cx="393.52" cy="121.00" r="3.0" fill="#94001a" fill-opacity="0.87"/><circle cx="434.74" cy="121.00" r="3.0" fill="#94001a" fill-opacity="0.87"/><circle cx="59.18" cy="125.00" r="3.0" fill="#94001a" fill-opacity="0.87"/><circle cx="72.92" cy="125.00" r="3.0" fill="#94001a" fill-opacity="0.87"/><circle cx="100.40" cy="125.00" r="3.0" fill="#94001a" fill-opacity="0.87"/><circle cx="182.84" cy="125.00" r="3.0" fill="#94001a" fill-opacity="0.87"/><circle cx="324.82" cy="125.00" r="3.0" fill="#94001a" fill-opacity="0.87"/><circle cx="370.62" cy="125.00" r="3.0" fill="#94001a" fill-opacity="0.87"/><circle cx="59.18" cy="129.00" r="3.0" fill="#94001a" fill-opacity="0.87"/><circle cx="155.36" cy="129.00" r="3.0" fill="#94001a" fill-opacity="0.87"/><circle cx="178.26" cy="129.00" r="3.0" fill="#94001a" fill-opacity="0.87"/><circle cx="228.64" cy="129.00" r="3.0" fill="#94001a" fill-opacity="0.87"/><circle cx="242.38" cy="129.00" r="3.0" fill="#94001a" fill-opacity="0.87"/><circle cx="36.28" cy="133.00" r="3.0" fill="#94001a" fill-opacity="0.87"/><circle cx="127.88" cy="133.00" r="3.0" fill="#94001a" fill-opacity="0.87"/><circle cx="251.54" cy="133.00" r="3.0" fill="#94001a" fill-opacity="0.87"/><circle cx="315.66" cy="133.00" r="3.0" fill="#94001a" fill-opacity="0.87"/><circle cx="407.26" cy="133.00" r="3.0" fill="#94001a" fill-opacity="0.87"/><circle cx="356.88" cy="137.00" r="3.0" fill="#94001a" fill-opacity="0.87"/><circle cx="434.74" cy="137.00" r="3.0" fill="#94001a" fill-opacity="0.87"/><circle cx="233.22" cy="141.00" r="3.0" fill="#94001a" fill-opacity="0.87"/><circle cx="246.96" cy="141.00" r="3.0" fill="#94001a" fill-opacity="0.87"/><circle cx="45.44" cy="145.00" r="3.0" fill="#94001a" fill-opacity="0.87"/><circle cx="187.42" cy="145.00" r="3.0" fill="#94001a" fill-opacity="0.87"/><circle cx="224.06" cy="145.00" r="3.0" fill="#94001a" fill-opacity="0.87"/><circle cx="324.82" cy="145.00" r="3.0" fill="#94001a" fill-opacity="0.87"/><circle cx="352.30" cy="145.00" r="3.0" fill="#94001a" fill-opacity="0.87"/><circle cx="443.90" cy="145.00" r="3.0" fill="#94001a" fill-opacity="0.87"/><circle cx="59.18" cy="149.00" r="3.0" fill="#94001a" fill-opacity="0.87"/><circle cx="63.76" cy="149.00" r="3.0" fill="#94001a" fill-opacity="0.87"/><circle cx="150.78" cy="149.00" r="3.0" fill="#94001a" fill-opacity="0.87"/><circle cx="343.14" cy="149.00" r="3.0" fill="#94001a" fill-opacity="0.87"/><circle cx="379.78" cy="149.00" r="3.0" fill="#94001a" fill-opacity="0.87"/><circle cx="201.16" cy="153.00" r="3.0" fill="#94001a" fill-opacity="0.87"/><circle cx="421.00" cy="153.00" r="3.0" fill="#94001a" fill-opacity="0.87"/><circle cx="434.74" cy="153.00" r="3.0" fill="#94001a" fill-opacity="0.87"/><circle cx="100.40" cy="157.00" r="3.0" fill="#94001a" fill-opacity="0.87"/><circle cx="402.68" cy="157.00" r="3.0" fill="#94001a" fill-opacity="0.87"/><circle cx="40.86" cy="161.00" r="3.0" fill="#94001a" fill-opacity="0.87"/><circle cx="68.34" cy="161.00" r="3.0" fill="#94001a" fill-opacity="0.87"/><circle cx="164.52" cy="45.00" r="3.0" fill="#3c0870" fill-opacity="0.85"/><circle cx="201.16" cy="45.00" r="3.0" fill="#3c0870" fill-opacity="0.85"/><circle cx="104.98" cy="57.00" r="3.0" fill="#3c0870" fill-opacity="0.85"/><circle cx="146.20" cy="57.00" r="3.0" fill="#3c0870" fill-opacity="0.85"/><circle cx="192.00" cy="57.00" r="3.0" fill="#3c0870" fill-opacity="0.85"/><circle cx="182.84" cy="61.00" r="3.0" fill="#3c0870" fill-opacity="0.85"/><circle cx="59.18" cy="73.00" r="3.0" fill="#3c0870" fill-opacity="0.85"/><circle cx="173.68" cy="73.00" r="3.0" fill="#3c0870" fill-opacity="0.85"/><circle cx="182.84" cy="73.00" r="3.0" fill="#3c0870" fill-opacity="0.85"/><circle cx="219.48" cy="73.00" r="3.0" fill="#3c0870" fill-opacity="0.85"/><circle cx="283.60" cy="81.00" r="3.0" fill="#3c0870" fill-opacity="0.85"/><circle cx="508.02" cy="81.00" r="3.0" fill="#3c0870" fill-opacity="0.85"/><circle cx="82.08" cy="85.00" r="3.0" fill="#3c0870" fill-opacity="0.85"/><circle cx="205.74" cy="89.00" r="3.0" fill="#3c0870" fill-opacity="0.85"/><circle cx="466.80" cy="93.00" r="3.0" fill="#3c0870" fill-opacity="0.85"/><circle cx="333.98" cy="97.00" r="3.0" fill="#3c0870" fill-opacity="0.85"/><circle cx="517.18" cy="97.00" r="3.0" fill="#3c0870" fill-opacity="0.85"/><circle cx="159.94" cy="101.00" r="3.0" fill="#3c0870" fill-opacity="0.85"/><circle cx="503.44" cy="101.00" r="3.0" fill="#3c0870" fill-opacity="0.85"/><circle cx="224.06" cy="105.00" r="3.0" fill="#3c0870" fill-opacity="0.85"/><circle cx="407.26" cy="105.00" r="3.0" fill="#3c0870" fill-opacity="0.85"/><circle cx="68.34" cy="109.00" r="3.0" fill="#3c0870" fill-opacity="0.85"/><circle cx="146.20" cy="113.00" r="3.0" fill="#3c0870" fill-opacity="0.85"/><circle cx="196.58" cy="113.00" r="3.0" fill="#3c0870" fill-opacity="0.85"/><circle cx="237.80" cy="113.00" r="3.0" fill="#3c0870" fill-opacity="0.85"/><circle cx="315.66" cy="113.00" r="3.0" fill="#3c0870" fill-opacity="0.85"/><circle cx="457.64" cy="113.00" r="3.0" fill="#3c0870" fill-opacity="0.85"/><circle cx="485.12" cy="113.00" r="3.0" fill="#3c0870" fill-opacity="0.85"/><circle cx="63.76" cy="117.00" r="3.0" fill="#3c0870" fill-opacity="0.85"/><circle cx="301.92" cy="117.00" r="3.0" fill="#3c0870" fill-opacity="0.85"/><circle cx="256.12" cy="121.00" r="3.0" fill="#3c0870" fill-opacity="0.85"/><circle cx="169.10" cy="125.00" r="3.0" fill="#3c0870" fill-opacity="0.85"/><circle cx="104.98" cy="129.00" r="3.0" fill="#3c0870" fill-opacity="0.85"/><circle cx="192.00" cy="129.00" r="3.0" fill="#3c0870" fill-opacity="0.85"/><circle cx="205.74" cy="129.00" r="3.0" fill="#3c0870" fill-opacity="0.85"/><circle cx="68.34" cy="133.00" r="3.0" fill="#3c0870" fill-opacity="0.85"/><circle cx="361.46" cy="133.00" r="3.0" fill="#3c0870" fill-opacity="0.85"/><circle cx="132.46" cy="137.00" r="3.0" fill="#3c0870" fill-opacity="0.85"/><circle cx="219.48" cy="137.00" r="3.0" fill="#3c0870" fill-opacity="0.85"/><circle cx="59.18" cy="141.00" r="3.0" fill="#3c0870" fill-opacity="0.85"/><circle cx="91.24" cy="141.00" r="3.0" fill="#3c0870" fill-opacity="0.85"/><circle cx="297.34" cy="141.00" r="3.0" fill="#3c0870" fill-opacity="0.85"/><circle cx="338.56" cy="141.00" r="3.0" fill="#3c0870" fill-opacity="0.85"/><circle cx="86.66" cy="145.00" r="3.0" fill="#3c0870" fill-opacity="0.85"/><circle cx="283.60" cy="145.00" r="3.0" fill="#3c0870" fill-opacity="0.85"/><circle cx="384.36" cy="145.00" r="3.0" fill="#3c0870" fill-opacity="0.85"/><circle cx="95.82" cy="161.00" r="3.0" fill="#3c0870" fill-opacity="0.85"/><circle cx="63.76" cy="165.00" r="3.0" fill="#3c0870" fill-opacity="0.85"/></g>
<g stroke="#bdbdbd" stroke-opacity="0.55" stroke-width="1"><line x1="31.4" y1="32" x2="31.4" y2="178"/><line x1="119.6" y1="32" x2="119.6" y2="178"/><line x1="207.8" y1="32" x2="207.8" y2="178"/><line x1="295.9" y1="32" x2="295.9" y2="178"/><line x1="384.1" y1="32" x2="384.1" y2="178"/><line x1="472.3" y1="32" x2="472.3" y2="178"/><line x1="27" y1="168.1" x2="553" y2="168.1"/><line x1="27" y1="146.1" x2="553" y2="146.1"/><line x1="27" y1="124.0" x2="553" y2="124.0"/><line x1="27" y1="102.0" x2="553" y2="102.0"/><line x1="27" y1="79.9" x2="553" y2="79.9"/><line x1="27" y1="57.9" x2="553" y2="57.9"/><line x1="27" y1="35.8" x2="553" y2="35.8"/></g>
</g>
<rect x="27.5" y="32.5" width="526" height="146" fill="none" stroke="#4a4a4a" stroke-width="1.1"/>
<g font-family="DejaVu Sans, sans-serif" font-size="8.1" fill="#262626"><text x="31.4" y="189" text-anchor="middle">95°W</text><text x="119.6" y="189" text-anchor="middle">94°W</text><text x="207.8" y="189" text-anchor="middle">93°W</text><text x="295.9" y="189" text-anchor="middle">92°W</text><text x="384.1" y="189" text-anchor="middle">91°W</text><text x="472.3" y="189" text-anchor="middle">90°W</text><text x="23" y="39.0" text-anchor="end">45′</text><text x="23" y="61.1" text-anchor="end">30′</text><text x="23" y="83.1" text-anchor="end">15′</text><text x="23" y="105.2" text-anchor="end">29°N</text><text x="23" y="127.2" text-anchor="end">45′</text><text x="23" y="149.3" text-anchor="end">30′</text><text x="23" y="171.3" text-anchor="end">15′</text></g>
</g>
<text transform="translate(300.2,22.6) scale(1,1.06)" x="0" y="0" text-anchor="middle" font-family="Liberation Sans, Arial, sans-serif" font-weight="bold" font-size="15" fill="#000">Original Hypoxia (COAWST hindcast) - STT</text>
<g transform="translate(5,210)">
<g clip-path="url(#clip)">
<use href="#base"/>
<g stroke="#000" stroke-opacity="0.55" stroke-width="0.6"><circle cx="164.52" cy="41.00" r="3.0" fill="#2e3aab" fill-opacity="0.72"/><circle cx="201.16" cy="41.00" r="3.0" fill="#2e3aab" fill-opacity="0.72"/><circle cx="196.58" cy="45.00" r="3.0" fill="#2e3aab" fill-opacity="0.72"/><circle cx="104.98" cy="49.00" r="3.0" fill="#2e3aab" fill-opacity="0.72"/><circle cx="150.78" cy="49.00" r="3.0" fill="#2e3aab" fill-opacity="0.72"/><circle cx="159.94" cy="49.00" r="3.0" fill="#2e3aab" fill-opacity="0.72"/><circle cx="169.10" cy="49.00" r="3.0" fill="#2e3aab" fill-opacity="0.72"/><circle cx="182.84" cy="49.00" r="3.0" fill="#2e3aab" fill-opacity="0.72"/><circle cx="210.32" cy="49.00" r="3.0" fill="#2e3aab" fill-opacity="0.72"/><circle cx="114.14" cy="53.00" r="3.0" fill="#2e3aab" fill-opacity="0.72"/><circle cx="127.88" cy="53.00" r="3.0" fill="#2e3aab" fill-opacity="0.72"/><circle cx="173.68" cy="53.00" r="3.0" fill="#2e3aab" fill-opacity="0.72"/><circle cx="205.74" cy="53.00" r="3.0" fill="#2e3aab" fill-opacity="0.72"/><circle cx="210.32" cy="57.00" r="3.0" fill="#2e3aab" fill-opacity="0.72"/><circle cx="219.48" cy="57.00" r="3.0" fill="#2e3aab" fill-opacity="0.72"/><circle cx="77.50" cy="61.00" r="3.0" fill="#2e3aab" fill-opacity="0.72"/><circle cx="104.98" cy="61.00" r="3.0" fill="#2e3aab" fill-opacity="0.72"/><circle cx="109.56" cy="61.00" r="3.0" fill="#2e3aab" fill-opacity="0.72"/><circle cx="132.46" cy="61.00" r="3.0" fill="#2e3aab" fill-opacity="0.72"/><circle cx="164.52" cy="61.00" r="3.0" fill="#2e3aab" fill-opacity="0.72"/><circle cx="169.10" cy="61.00" r="3.0" fill="#2e3aab" fill-opacity="0.72"/><circle cx="210.32" cy="61.00" r="3.0" fill="#2e3aab" fill-opacity="0.72"/><circle cx="214.90" cy="61.00" r="3.0" fill="#2e3aab" fill-opacity="0.72"/><circle cx="246.96" cy="61.00" r="3.0" fill="#2e3aab" fill-opacity="0.72"/><circle cx="91.24" cy="65.00" r="3.0" fill="#2e3aab" fill-opacity="0.72"/><circle cx="173.68" cy="65.00" r="3.0" fill="#2e3aab" fill-opacity="0.72"/><circle cx="192.00" cy="65.00" r="3.0" fill="#2e3aab" fill-opacity="0.72"/><circle cx="201.16" cy="65.00" r="3.0" fill="#2e3aab" fill-opacity="0.72"/><circle cx="205.74" cy="65.00" r="3.0" fill="#2e3aab" fill-opacity="0.72"/><circle cx="95.82" cy="69.00" r="3.0" fill="#2e3aab" fill-opacity="0.72"/><circle cx="114.14" cy="69.00" r="3.0" fill="#2e3aab" fill-opacity="0.72"/><circle cx="164.52" cy="69.00" r="3.0" fill="#2e3aab" fill-opacity="0.72"/><circle cx="201.16" cy="69.00" r="3.0" fill="#2e3aab" fill-opacity="0.72"/><circle cx="205.74" cy="69.00" r="3.0" fill="#2e3aab" fill-opacity="0.72"/><circle cx="219.48" cy="69.00" r="3.0" fill="#2e3aab" fill-opacity="0.72"/><circle cx="228.64" cy="69.00" r="3.0" fill="#2e3aab" fill-opacity="0.72"/><circle cx="114.14" cy="73.00" r="3.0" fill="#2e3aab" fill-opacity="0.72"/><circle cx="132.46" cy="73.00" r="3.0" fill="#2e3aab" fill-opacity="0.72"/><circle cx="237.80" cy="73.00" r="3.0" fill="#2e3aab" fill-opacity="0.72"/><circle cx="72.92" cy="77.00" r="3.0" fill="#2e3aab" fill-opacity="0.72"/><circle cx="100.40" cy="77.00" r="3.0" fill="#2e3aab" fill-opacity="0.72"/><circle cx="137.04" cy="77.00" r="3.0" fill="#2e3aab" fill-opacity="0.72"/><circle cx="169.10" cy="77.00" r="3.0" fill="#2e3aab" fill-opacity="0.72"/><circle cx="173.68" cy="77.00" r="3.0" fill="#2e3aab" fill-opacity="0.72"/><circle cx="210.32" cy="77.00" r="3.0" fill="#2e3aab" fill-opacity="0.72"/><circle cx="219.48" cy="77.00" r="3.0" fill="#2e3aab" fill-opacity="0.72"/><circle cx="237.80" cy="77.00" r="3.0" fill="#2e3aab" fill-opacity="0.72"/><circle cx="301.92" cy="77.00" r="3.0" fill="#2e3aab" fill-opacity="0.72"/><circle cx="311.08" cy="77.00" r="3.0" fill="#2e3aab" fill-opacity="0.72"/><circle cx="95.82" cy="81.00" r="3.0" fill="#2e3aab" fill-opacity="0.72"/><circle cx="123.30" cy="81.00" r="3.0" fill="#2e3aab" fill-opacity="0.72"/><circle cx="132.46" cy="81.00" r="3.0" fill="#2e3aab" fill-opacity="0.72"/><circle cx="196.58" cy="81.00" r="3.0" fill="#2e3aab" fill-opacity="0.72"/><circle cx="201.16" cy="81.00" r="3.0" fill="#2e3aab" fill-opacity="0.72"/><circle cx="301.92" cy="81.00" r="3.0" fill="#2e3aab" fill-opacity="0.72"/><circle cx="485.12" cy="81.00" r="3.0" fill="#2e3aab" fill-opacity="0.72"/><circle cx="494.28" cy="81.00" r="3.0" fill="#2e3aab" fill-opacity="0.72"/><circle cx="54.60" cy="85.00" r="3.0" fill="#2e3aab" fill-opacity="0.72"/><circle cx="68.34" cy="85.00" r="3.0" fill="#2e3aab" fill-opacity="0.72"/><circle cx="72.92" cy="85.00" r="3.0" fill="#2e3aab" fill-opacity="0.72"/><circle cx="91.24" cy="85.00" r="3.0" fill="#2e3aab" fill-opacity="0.72"/><circle cx="127.88" cy="85.00" r="3.0" fill="#2e3aab" fill-opacity="0.72"/><circle cx="242.38" cy="85.00" r="3.0" fill="#2e3aab" fill-opacity="0.72"/><circle cx="283.60" cy="85.00" r="3.0" fill="#2e3aab" fill-opacity="0.72"/><circle cx="301.92" cy="85.00" r="3.0" fill="#2e3aab" fill-opacity="0.72"/><circle cx="329.40" cy="85.00" r="3.0" fill="#2e3aab" fill-opacity="0.72"/><circle cx="333.98" cy="85.00" r="3.0" fill="#2e3aab" fill-opacity="0.72"/><circle cx="489.70" cy="85.00" r="3.0" fill="#2e3aab" fill-opacity="0.72"/><circle cx="82.08" cy="89.00" r="3.0" fill="#2e3aab" fill-opacity="0.72"/><circle cx="141.62" cy="89.00" r="3.0" fill="#2e3aab" fill-opacity="0.72"/><circle cx="155.36" cy="89.00" r="3.0" fill="#2e3aab" fill-opacity="0.72"/><circle cx="159.94" cy="89.00" r="3.0" fill="#2e3aab" fill-opacity="0.72"/><circle cx="178.26" cy="89.00" r="3.0" fill="#2e3aab" fill-opacity="0.72"/><circle cx="228.64" cy="89.00" r="3.0" fill="#2e3aab" fill-opacity="0.72"/><circle cx="301.92" cy="89.00" r="3.0" fill="#2e3aab" fill-opacity="0.72"/><circle cx="471.38" cy="89.00" r="3.0" fill="#2e3aab" fill-opacity="0.72"/><circle cx="50.02" cy="93.00" r="3.0" fill="#2e3aab" fill-opacity="0.72"/><circle cx="54.60" cy="93.00" r="3.0" fill="#2e3aab" fill-opacity="0.72"/><circle cx="95.82" cy="93.00" r="3.0" fill="#2e3aab" fill-opacity="0.72"/><circle cx="132.46" cy="93.00" r="3.0" fill="#2e3aab" fill-opacity="0.72"/><circle cx="155.36" cy="93.00" r="3.0" fill="#2e3aab" fill-opacity="0.72"/><circle cx="201.16" cy="93.00" r="3.0" fill="#2e3aab" fill-opacity="0.72"/><circle cx="214.90" cy="93.00" r="3.0" fill="#2e3aab" fill-opacity="0.72"/><circle cx="224.06" cy="93.00" r="3.0" fill="#2e3aab" fill-opacity="0.72"/><circle cx="233.22" cy="93.00" r="3.0" fill="#2e3aab" fill-opacity="0.72"/><circle cx="265.28" cy="93.00" r="3.0" fill="#2e3aab" fill-opacity="0.72"/><circle cx="283.60" cy="93.00" r="3.0" fill="#2e3aab" fill-opacity="0.72"/><circle cx="498.86" cy="93.00" r="3.0" fill="#2e3aab" fill-opacity="0.72"/><circle cx="512.60" cy="93.00" r="3.0" fill="#2e3aab" fill-opacity="0.72"/><circle cx="72.92" cy="97.00" r="3.0" fill="#2e3aab" fill-opacity="0.72"/><circle cx="178.26" cy="97.00" r="3.0" fill="#2e3aab" fill-opacity="0.72"/><circle cx="192.00" cy="97.00" r="3.0" fill="#2e3aab" fill-opacity="0.72"/><circle cx="260.70" cy="97.00" r="3.0" fill="#2e3aab" fill-opacity="0.72"/><circle cx="292.76" cy="97.00" r="3.0" fill="#2e3aab" fill-opacity="0.72"/><circle cx="297.34" cy="97.00" r="3.0" fill="#2e3aab" fill-opacity="0.72"/><circle cx="315.66" cy="97.00" r="3.0" fill="#2e3aab" fill-opacity="0.72"/><circle cx="347.72" cy="97.00" r="3.0" fill="#2e3aab" fill-opacity="0.72"/><circle cx="471.38" cy="97.00" r="3.0" fill="#2e3aab" fill-opacity="0.72"/><circle cx="475.96" cy="97.00" r="3.0" fill="#2e3aab" fill-opacity="0.72"/><circle cx="480.54" cy="97.00" r="3.0" fill="#2e3aab" fill-opacity="0.72"/><circle cx="540.08" cy="97.00" r="3.0" fill="#2e3aab" fill-opacity="0.72"/><circle cx="109.56" cy="101.00" r="3.0" fill="#2e3aab" fill-opacity="0.72"/><circle cx="141.62" cy="101.00" r="3.0" fill="#2e3aab" fill-opacity="0.72"/><circle cx="146.20" cy="101.00" r="3.0" fill="#2e3aab" fill-opacity="0.72"/><circle cx="196.58" cy="101.00" r="3.0" fill="#2e3aab" fill-opacity="0.72"/><circle cx="201.16" cy="101.00" r="3.0" fill="#2e3aab" fill-opacity="0.72"/><circle cx="205.74" cy="101.00" r="3.0" fill="#2e3aab" fill-opacity="0.72"/><circle cx="210.32" cy="101.00" r="3.0" fill="#2e3aab" fill-opacity="0.72"/><circle cx="219.48" cy="101.00" r="3.0" fill="#2e3aab" fill-opacity="0.72"/><circle cx="228.64" cy="101.00" r="3.0" fill="#2e3aab" fill-opacity="0.72"/><circle cx="288.18" cy="101.00" r="3.0" fill="#2e3aab" fill-opacity="0.72"/><circle cx="343.14" cy="101.00" r="3.0" fill="#2e3aab" fill-opacity="0.72"/><circle cx="352.30" cy="101.00" r="3.0" fill="#2e3aab" fill-opacity="0.72"/><circle cx="430.16" cy="101.00" r="3.0" fill="#2e3aab" fill-opacity="0.72"/><circle cx="508.02" cy="101.00" r="3.0" fill="#2e3aab" fill-opacity="0.72"/><circle cx="517.18" cy="101.00" r="3.0" fill="#2e3aab" fill-opacity="0.72"/><circle cx="535.50" cy="101.00" r="3.0" fill="#2e3aab" fill-opacity="0.72"/><circle cx="50.02" cy="105.00" r="3.0" fill="#2e3aab" fill-opacity="0.72"/><circle cx="54.60" cy="105.00" r="3.0" fill="#2e3aab" fill-opacity="0.72"/><circle cx="63.76" cy="105.00" r="3.0" fill="#2e3aab" fill-opacity="0.72"/><circle cx="91.24" cy="105.00" r="3.0" fill="#2e3aab" fill-opacity="0.72"/><circle cx="104.98" cy="105.00" r="3.0" fill="#2e3aab" fill-opacity="0.72"/><circle cx="114.14" cy="105.00" r="3.0" fill="#2e3aab" fill-opacity="0.72"/><circle cx="150.78" cy="105.00" r="3.0" fill="#2e3aab" fill-opacity="0.72"/><circle cx="173.68" cy="105.00" r="3.0" fill="#2e3aab" fill-opacity="0.72"/><circle cx="205.74" cy="105.00" r="3.0" fill="#2e3aab" fill-opacity="0.72"/><circle cx="210.32" cy="105.00" r="3.0" fill="#2e3aab" fill-opacity="0.72"/><circle cx="251.54" cy="105.00" r="3.0" fill="#2e3aab" fill-opacity="0.72"/><circle cx="297.34" cy="105.00" r="3.0" fill="#2e3aab" fill-opacity="0.72"/><circle cx="329.40" cy="105.00" r="3.0" fill="#2e3aab" fill-opacity="0.72"/><circle cx="393.52" cy="105.00" r="3.0" fill="#2e3aab" fill-opacity="0.72"/><circle cx="411.84" cy="105.00" r="3.0" fill="#2e3aab" fill-opacity="0.72"/><circle cx="475.96" cy="105.00" r="3.0" fill="#2e3aab" fill-opacity="0.72"/><circle cx="480.54" cy="105.00" r="3.0" fill="#2e3aab" fill-opacity="0.72"/><circle cx="498.86" cy="105.00" r="3.0" fill="#2e3aab" fill-opacity="0.72"/><circle cx="508.02" cy="105.00" r="3.0" fill="#2e3aab" fill-opacity="0.72"/><circle cx="517.18" cy="105.00" r="3.0" fill="#2e3aab" fill-opacity="0.72"/><circle cx="36.28" cy="109.00" r="3.0" fill="#2e3aab" fill-opacity="0.72"/><circle cx="40.86" cy="109.00" r="3.0" fill="#2e3aab" fill-opacity="0.72"/><circle cx="54.60" cy="109.00" r="3.0" fill="#2e3aab" fill-opacity="0.72"/><circle cx="77.50" cy="109.00" r="3.0" fill="#2e3aab" fill-opacity="0.72"/><circle cx="95.82" cy="109.00" r="3.0" fill="#2e3aab" fill-opacity="0.72"/><circle cx="100.40" cy="109.00" r="3.0" fill="#2e3aab" fill-opacity="0.72"/><circle cx="159.94" cy="109.00" r="3.0" fill="#2e3aab" fill-opacity="0.72"/><circle cx="242.38" cy="109.00" r="3.0" fill="#2e3aab" fill-opacity="0.72"/><circle cx="256.12" cy="109.00" r="3.0" fill="#2e3aab" fill-opacity="0.72"/><circle cx="260.70" cy="109.00" r="3.0" fill="#2e3aab" fill-opacity="0.72"/><circle cx="315.66" cy="109.00" r="3.0" fill="#2e3aab" fill-opacity="0.72"/><circle cx="320.24" cy="109.00" r="3.0" fill="#2e3aab" fill-opacity="0.72"/><circle cx="324.82" cy="109.00" r="3.0" fill="#2e3aab" fill-opacity="0.72"/><circle cx="343.14" cy="109.00" r="3.0" fill="#2e3aab" fill-opacity="0.72"/><circle cx="361.46" cy="109.00" r="3.0" fill="#2e3aab" fill-opacity="0.72"/><circle cx="370.62" cy="109.00" r="3.0" fill="#2e3aab" fill-opacity="0.72"/><circle cx="466.80" cy="109.00" r="3.0" fill="#2e3aab" fill-opacity="0.72"/><circle cx="535.50" cy="109.00" r="3.0" fill="#2e3aab" fill-opacity="0.72"/><circle cx="45.44" cy="113.00" r="3.0" fill="#2e3aab" fill-opacity="0.72"/><circle cx="95.82" cy="113.00" r="3.0" fill="#2e3aab" fill-opacity="0.72"/><circle cx="127.88" cy="113.00" r="3.0" fill="#2e3aab" fill-opacity="0.72"/><circle cx="137.04" cy="113.00" r="3.0" fill="#2e3aab" fill-opacity="0.72"/><circle cx="169.10" cy="113.00" r="3.0" fill="#2e3aab" fill-opacity="0.72"/><circle cx="173.68" cy="113.00" r="3.0" fill="#2e3aab" fill-opacity="0.72"/><circle cx="233.22" cy="113.00" r="3.0" fill="#2e3aab" fill-opacity="0.72"/><circle cx="333.98" cy="113.00" r="3.0" fill="#2e3aab" fill-opacity="0.72"/><circle cx="352.30" cy="113.00" r="3.0" fill="#2e3aab" fill-opacity="0.72"/><circle cx="366.04" cy="113.00" r="3.0" fill="#2e3aab" fill-opacity="0.72"/><circle cx="388.94" cy="113.00" r="3.0" fill="#2e3aab" fill-opacity="0.72"/><circle cx="448.48" cy="113.00" r="3.0" fill="#2e3aab" fill-opacity="0.72"/><circle cx="471.38" cy="113.00" r="3.0" fill="#2e3aab" fill-opacity="0.72"/><circle cx="36.28" cy="117.00" r="3.0" fill="#2e3aab" fill-opacity="0.72"/><circle cx="40.86" cy="117.00" r="3.0" fill="#2e3aab" fill-opacity="0.72"/><circle cx="50.02" cy="117.00" r="3.0" fill="#2e3aab" fill-opacity="0.72"/><circle cx="72.92" cy="117.00" r="3.0" fill="#2e3aab" fill-opacity="0.72"/><circle cx="86.66" cy="117.00" r="3.0" fill="#2e3aab" fill-opacity="0.72"/><circle cx="127.88" cy="117.00" r="3.0" fill="#2e3aab" fill-opacity="0.72"/><circle cx="141.62" cy="117.00" r="3.0" fill="#2e3aab" fill-opacity="0.72"/><circle cx="205.74" cy="117.00" r="3.0" fill="#2e3aab" fill-opacity="0.72"/><circle cx="224.06" cy="117.00" r="3.0" fill="#2e3aab" fill-opacity="0.72"/><circle cx="251.54" cy="117.00" r="3.0" fill="#2e3aab" fill-opacity="0.72"/><circle cx="269.86" cy="117.00" r="3.0" fill="#2e3aab" fill-opacity="0.72"/><circle cx="274.44" cy="117.00" r="3.0" fill="#2e3aab" fill-opacity="0.72"/><circle cx="279.02" cy="117.00" r="3.0" fill="#2e3aab" fill-opacity="0.72"/><circle cx="288.18" cy="117.00" r="3.0" fill="#2e3aab" fill-opacity="0.72"/><circle cx="292.76" cy="117.00" r="3.0" fill="#2e3aab" fill-opacity="0.72"/><circle cx="306.50" cy="117.00" r="3.0" fill="#2e3aab" fill-opacity="0.72"/><circle cx="338.56" cy="117.00" r="3.0" fill="#2e3aab" fill-opacity="0.72"/><circle cx="375.20" cy="117.00" r="3.0" fill="#2e3aab" fill-opacity="0.72"/><circle cx="393.52" cy="117.00" r="3.0" fill="#2e3aab" fill-opacity="0.72"/><circle cx="398.10" cy="117.00" r="3.0" fill="#2e3aab" fill-opacity="0.72"/><circle cx="439.32" cy="117.00" r="3.0" fill="#2e3aab" fill-opacity="0.72"/><circle cx="466.80" cy="117.00" r="3.0" fill="#2e3aab" fill-opacity="0.72"/><circle cx="36.28" cy="121.00" r="3.0" fill="#2e3aab" fill-opacity="0.72"/><circle cx="68.34" cy="121.00" r="3.0" fill="#2e3aab" fill-opacity="0.72"/><circle cx="72.92" cy="121.00" r="3.0" fill="#2e3aab" fill-opacity="0.72"/><circle cx="95.82" cy="121.00" r="3.0" fill="#2e3aab" fill-opacity="0.72"/><circle cx="137.04" cy="121.00" r="3.0" fill="#2e3aab" fill-opacity="0.72"/><circle cx="150.78" cy="121.00" r="3.0" fill="#2e3aab" fill-opacity="0.72"/><circle cx="169.10" cy="121.00" r="3.0" fill="#2e3aab" fill-opacity="0.72"/><circle cx="178.26" cy="121.00" r="3.0" fill="#2e3aab" fill-opacity="0.72"/><circle cx="182.84" cy="121.00" r="3.0" fill="#2e3aab" fill-opacity="0.72"/><circle cx="187.42" cy="121.00" r="3.0" fill="#2e3aab" fill-opacity="0.72"/><circle cx="201.16" cy="121.00" r="3.0" fill="#2e3aab" fill-opacity="0.72"/><circle cx="219.48" cy="121.00" r="3.0" fill="#2e3aab" fill-opacity="0.72"/><circle cx="224.06" cy="121.00" r="3.0" fill="#2e3aab" fill-opacity="0.72"/><circle cx="301.92" cy="121.00" r="3.0" fill="#2e3aab" fill-opacity="0.72"/><circle cx="324.82" cy="121.00" r="3.0" fill="#2e3aab" fill-opacity="0.72"/><circle cx="347.72" cy="121.00" r="3.0" fill="#2e3aab" fill-opacity="0.72"/><circle cx="366.04" cy="121.00" r="3.0" fill="#2e3aab" fill-opacity="0.72"/><circle cx="370.62" cy="121.00" r="3.0" fill="#2e3aab" fill-opacity="0.72"/><circle cx="439.32" cy="121.00" r="3.0" fill="#2e3aab" fill-opacity="0.72"/><circle cx="443.90" cy="121.00" r="3.0" fill="#2e3aab" fill-opacity="0.72"/><circle cx="462.22" cy="121.00" r="3.0" fill="#2e3aab" fill-opacity="0.72"/><circle cx="36.28" cy="125.00" r="3.0" fill="#2e3aab" fill-opacity="0.72"/><circle cx="40.86" cy="125.00" r="3.0" fill="#2e3aab" fill-opacity="0.72"/><circle cx="68.34" cy="125.00" r="3.0" fill="#2e3aab" fill-opacity="0.72"/><circle cx="77.50" cy="125.00" r="3.0" fill="#2e3aab" fill-opacity="0.72"/><circle cx="82.08" cy="125.00" r="3.0" fill="#2e3aab" fill-opacity="0.72"/><circle cx="86.66" cy="125.00" r="3.0" fill="#2e3aab" fill-opacity="0.72"/><circle cx="104.98" cy="125.00" r="3.0" fill="#2e3aab" fill-opacity="0.72"/><circle cx="109.56" cy="125.00" r="3.0" fill="#2e3aab" fill-opacity="0.72"/><circle cx="155.36" cy="125.00" r="3.0" fill="#2e3aab" fill-opacity="0.72"/><circle cx="196.58" cy="125.00" r="3.0" fill="#2e3aab" fill-opacity="0.72"/><circle cx="214.90" cy="125.00" r="3.0" fill="#2e3aab" fill-opacity="0.72"/><circle cx="256.12" cy="125.00" r="3.0" fill="#2e3aab" fill-opacity="0.72"/><circle cx="297.34" cy="125.00" r="3.0" fill="#2e3aab" fill-opacity="0.72"/><circle cx="301.92" cy="125.00" r="3.0" fill="#2e3aab" fill-opacity="0.72"/><circle cx="347.72" cy="125.00" r="3.0" fill="#2e3aab" fill-opacity="0.72"/><circle cx="384.36" cy="125.00" r="3.0" fill="#2e3aab" fill-opacity="0.72"/><circle cx="388.94" cy="125.00" r="3.0" fill="#2e3aab" fill-opacity="0.72"/><circle cx="398.10" cy="125.00" r="3.0" fill="#2e3aab" fill-opacity="0.72"/><circle cx="402.68" cy="125.00" r="3.0" fill="#2e3aab" fill-opacity="0.72"/><circle cx="411.84" cy="125.00" r="3.0" fill="#2e3aab" fill-opacity="0.72"/><circle cx="45.44" cy="129.00" r="3.0" fill="#2e3aab" fill-opacity="0.72"/><circle cx="50.02" cy="129.00" r="3.0" fill="#2e3aab" fill-opacity="0.72"/><circle cx="169.10" cy="129.00" r="3.0" fill="#2e3aab" fill-opacity="0.72"/><circle cx="182.84" cy="129.00" r="3.0" fill="#2e3aab" fill-opacity="0.72"/><circle cx="297.34" cy="129.00" r="3.0" fill="#2e3aab" fill-opacity="0.72"/><circle cx="333.98" cy="129.00" r="3.0" fill="#2e3aab" fill-opacity="0.72"/><circle cx="347.72" cy="129.00" r="3.0" fill="#2e3aab" fill-opacity="0.72"/><circle cx="356.88" cy="129.00" r="3.0" fill="#2e3aab" fill-opacity="0.72"/><circle cx="416.42" cy="129.00" r="3.0" fill="#2e3aab" fill-opacity="0.72"/><circle cx="439.32" cy="129.00" r="3.0" fill="#2e3aab" fill-opacity="0.72"/><circle cx="54.60" cy="133.00" r="3.0" fill="#2e3aab" fill-opacity="0.72"/><circle cx="100.40" cy="133.00" r="3.0" fill="#2e3aab" fill-opacity="0.72"/><circle cx="114.14" cy="133.00" r="3.0" fill="#2e3aab" fill-opacity="0.72"/><circle cx="169.10" cy="133.00" r="3.0" fill="#2e3aab" fill-opacity="0.72"/><circle cx="192.00" cy="133.00" r="3.0" fill="#2e3aab" fill-opacity="0.72"/><circle cx="237.80" cy="133.00" r="3.0" fill="#2e3aab" fill-opacity="0.72"/><circle cx="324.82" cy="133.00" r="3.0" fill="#2e3aab" fill-opacity="0.72"/><circle cx="333.98" cy="133.00" r="3.0" fill="#2e3aab" fill-opacity="0.72"/><circle cx="356.88" cy="133.00" r="3.0" fill="#2e3aab" fill-opacity="0.72"/><circle cx="393.52" cy="133.00" r="3.0" fill="#2e3aab" fill-opacity="0.72"/><circle cx="411.84" cy="133.00" r="3.0" fill="#2e3aab" fill-opacity="0.72"/><circle cx="114.14" cy="137.00" r="3.0" fill="#2e3aab" fill-opacity="0.72"/><circle cx="155.36" cy="137.00" r="3.0" fill="#2e3aab" fill-opacity="0.72"/><circle cx="187.42" cy="137.00" r="3.0" fill="#2e3aab" fill-opacity="0.72"/><circle cx="228.64" cy="137.00" r="3.0" fill="#2e3aab" fill-opacity="0.72"/><circle cx="233.22" cy="137.00" r="3.0" fill="#2e3aab" fill-opacity="0.72"/><circle cx="260.70" cy="137.00" r="3.0" fill="#2e3aab" fill-opacity="0.72"/><circle cx="279.02" cy="137.00" r="3.0" fill="#2e3aab" fill-opacity="0.72"/><circle cx="301.92" cy="137.00" r="3.0" fill="#2e3aab" fill-opacity="0.72"/><circle cx="306.50" cy="137.00" r="3.0" fill="#2e3aab" fill-opacity="0.72"/><circle cx="343.14" cy="137.00" r="3.0" fill="#2e3aab" fill-opacity="0.72"/><circle cx="379.78" cy="137.00" r="3.0" fill="#2e3aab" fill-opacity="0.72"/><circle cx="421.00" cy="137.00" r="3.0" fill="#2e3aab" fill-opacity="0.72"/><circle cx="146.20" cy="141.00" r="3.0" fill="#2e3aab" fill-opacity="0.72"/><circle cx="164.52" cy="141.00" r="3.0" fill="#2e3aab" fill-opacity="0.72"/><circle cx="187.42" cy="141.00" r="3.0" fill="#2e3aab" fill-opacity="0.72"/><circle cx="196.58" cy="141.00" r="3.0" fill="#2e3aab" fill-opacity="0.72"/><circle cx="224.06" cy="141.00" r="3.0" fill="#2e3aab" fill-opacity="0.72"/><circle cx="256.12" cy="141.00" r="3.0" fill="#2e3aab" fill-opacity="0.72"/><circle cx="274.44" cy="141.00" r="3.0" fill="#2e3aab" fill-opacity="0.72"/><circle cx="279.02" cy="141.00" r="3.0" fill="#2e3aab" fill-opacity="0.72"/><circle cx="333.98" cy="141.00" r="3.0" fill="#2e3aab" fill-opacity="0.72"/><circle cx="398.10" cy="141.00" r="3.0" fill="#2e3aab" fill-opacity="0.72"/><circle cx="443.90" cy="141.00" r="3.0" fill="#2e3aab" fill-opacity="0.72"/><circle cx="82.08" cy="145.00" r="3.0" fill="#2e3aab" fill-opacity="0.72"/><circle cx="95.82" cy="145.00" r="3.0" fill="#2e3aab" fill-opacity="0.72"/><circle cx="114.14" cy="145.00" r="3.0" fill="#2e3aab" fill-opacity="0.72"/><circle cx="118.72" cy="145.00" r="3.0" fill="#2e3aab" fill-opacity="0.72"/><circle cx="146.20" cy="145.00" r="3.0" fill="#2e3aab" fill-opacity="0.72"/><circle cx="173.68" cy="145.00" r="3.0" fill="#2e3aab" fill-opacity="0.72"/><circle cx="201.16" cy="145.00" r="3.0" fill="#2e3aab" fill-opacity="0.72"/><circle cx="210.32" cy="145.00" r="3.0" fill="#2e3aab" fill-opacity="0.72"/><circle cx="233.22" cy="145.00" r="3.0" fill="#2e3aab" fill-opacity="0.72"/><circle cx="260.70" cy="145.00" r="3.0" fill="#2e3aab" fill-opacity="0.72"/><circle cx="292.76" cy="145.00" r="3.0" fill="#2e3aab" fill-opacity="0.72"/><circle cx="333.98" cy="145.00" r="3.0" fill="#2e3aab" fill-opacity="0.72"/><circle cx="347.72" cy="145.00" r="3.0" fill="#2e3aab" fill-opacity="0.72"/><circle cx="352.30" cy="145.00" r="3.0" fill="#2e3aab" fill-opacity="0.72"/><circle cx="366.04" cy="145.00" r="3.0" fill="#2e3aab" fill-opacity="0.72"/><circle cx="375.20" cy="145.00" r="3.0" fill="#2e3aab" fill-opacity="0.72"/><circle cx="407.26" cy="145.00" r="3.0" fill="#2e3aab" fill-opacity="0.72"/><circle cx="416.42" cy="145.00" r="3.0" fill="#2e3aab" fill-opacity="0.72"/><circle cx="72.92" cy="149.00" r="3.0" fill="#2e3aab" fill-opacity="0.72"/><circle cx="164.52" cy="149.00" r="3.0" fill="#2e3aab" fill-opacity="0.72"/><circle cx="182.84" cy="149.00" r="3.0" fill="#2e3aab" fill-opacity="0.72"/><circle cx="224.06" cy="149.00" r="3.0" fill="#2e3aab" fill-opacity="0.72"/><circle cx="375.20" cy="149.00" r="3.0" fill="#2e3aab" fill-opacity="0.72"/><circle cx="402.68" cy="149.00" r="3.0" fill="#2e3aab" fill-opacity="0.72"/><circle cx="443.90" cy="149.00" r="3.0" fill="#2e3aab" fill-opacity="0.72"/><circle cx="68.34" cy="153.00" r="3.0" fill="#2e3aab" fill-opacity="0.72"/><circle cx="86.66" cy="153.00" r="3.0" fill="#2e3aab" fill-opacity="0.72"/><circle cx="146.20" cy="153.00" r="3.0" fill="#2e3aab" fill-opacity="0.72"/><circle cx="196.58" cy="153.00" r="3.0" fill="#2e3aab" fill-opacity="0.72"/><circle cx="210.32" cy="153.00" r="3.0" fill="#2e3aab" fill-opacity="0.72"/><circle cx="379.78" cy="153.00" r="3.0" fill="#2e3aab" fill-opacity="0.72"/><circle cx="398.10" cy="153.00" r="3.0" fill="#2e3aab" fill-opacity="0.72"/><circle cx="77.50" cy="157.00" r="3.0" fill="#2e3aab" fill-opacity="0.72"/><circle cx="86.66" cy="157.00" r="3.0" fill="#2e3aab" fill-opacity="0.72"/><circle cx="384.36" cy="157.00" r="3.0" fill="#2e3aab" fill-opacity="0.72"/><circle cx="393.52" cy="157.00" r="3.0" fill="#2e3aab" fill-opacity="0.72"/><circle cx="411.84" cy="157.00" r="3.0" fill="#2e3aab" fill-opacity="0.72"/><circle cx="82.08" cy="161.00" r="3.0" fill="#2e3aab" fill-opacity="0.72"/><circle cx="104.98" cy="161.00" r="3.0" fill="#2e3aab" fill-opacity="0.72"/><circle cx="40.86" cy="165.00" r="3.0" fill="#2e3aab" fill-opacity="0.72"/><circle cx="45.44" cy="165.00" r="3.0" fill="#2e3aab" fill-opacity="0.72"/><circle cx="54.60" cy="165.00" r="3.0" fill="#2e3aab" fill-opacity="0.72"/><circle cx="86.66" cy="165.00" r="3.0" fill="#2e3aab" fill-opacity="0.72"/><circle cx="91.24" cy="165.00" r="3.0" fill="#2e3aab" fill-opacity="0.72"/><circle cx="45.44" cy="169.00" r="3.0" fill="#2e3aab" fill-opacity="0.72"/><circle cx="59.18" cy="169.00" r="3.0" fill="#2e3aab" fill-opacity="0.72"/><circle cx="159.94" cy="45.00" r="3.0" fill="#b60024" fill-opacity="0.72"/><circle cx="127.88" cy="49.00" r="3.0" fill="#b60024" fill-opacity="0.72"/><circle cx="164.52" cy="49.00" r="3.0" fill="#b60024" fill-opacity="0.72"/><circle cx="205.74" cy="49.00" r="3.0" fill="#b60024" fill-opacity="0.72"/><circle cx="214.90" cy="49.00" r="3.0" fill="#b60024" fill-opacity="0.72"/><circle cx="224.06" cy="49.00" r="3.0" fill="#b60024" fill-opacity="0.72"/><circle cx="95.82" cy="53.00" r="3.0" fill="#b60024" fill-opacity="0.72"/><circle cx="237.80" cy="53.00" r="3.0" fill="#b60024" fill-opacity="0.72"/><circle cx="118.72" cy="57.00" r="3.0" fill="#b60024" fill-opacity="0.72"/><circle cx="159.94" cy="57.00" r="3.0" fill="#b60024" fill-opacity="0.72"/><circle cx="169.10" cy="57.00" r="3.0" fill="#b60024" fill-opacity="0.72"/><circle cx="182.84" cy="57.00" r="3.0" fill="#b60024" fill-opacity="0.72"/><circle cx="196.58" cy="57.00" r="3.0" fill="#b60024" fill-opacity="0.72"/><circle cx="201.16" cy="57.00" r="3.0" fill="#b60024" fill-opacity="0.72"/><circle cx="214.90" cy="57.00" r="3.0" fill="#b60024" fill-opacity="0.72"/><circle cx="224.06" cy="57.00" r="3.0" fill="#b60024" fill-opacity="0.72"/><circle cx="251.54" cy="57.00" r="3.0" fill="#b60024" fill-opacity="0.72"/><circle cx="256.12" cy="57.00" r="3.0" fill="#b60024" fill-opacity="0.72"/><circle cx="123.30" cy="61.00" r="3.0" fill="#b60024" fill-opacity="0.72"/><circle cx="127.88" cy="61.00" r="3.0" fill="#b60024" fill-opacity="0.72"/><circle cx="205.74" cy="61.00" r="3.0" fill="#b60024" fill-opacity="0.72"/><circle cx="228.64" cy="61.00" r="3.0" fill="#b60024" fill-opacity="0.72"/><circle cx="77.50" cy="65.00" r="3.0" fill="#b60024" fill-opacity="0.72"/><circle cx="127.88" cy="65.00" r="3.0" fill="#b60024" fill-opacity="0.72"/><circle cx="164.52" cy="65.00" r="3.0" fill="#b60024" fill-opacity="0.72"/><circle cx="228.64" cy="65.00" r="3.0" fill="#b60024" fill-opacity="0.72"/><circle cx="251.54" cy="65.00" r="3.0" fill="#b60024" fill-opacity="0.72"/><circle cx="141.62" cy="69.00" r="3.0" fill="#b60024" fill-opacity="0.72"/><circle cx="169.10" cy="69.00" r="3.0" fill="#b60024" fill-opacity="0.72"/><circle cx="237.80" cy="69.00" r="3.0" fill="#b60024" fill-opacity="0.72"/><circle cx="269.86" cy="69.00" r="3.0" fill="#b60024" fill-opacity="0.72"/><circle cx="82.08" cy="73.00" r="3.0" fill="#b60024" fill-opacity="0.72"/><circle cx="100.40" cy="73.00" r="3.0" fill="#b60024" fill-opacity="0.72"/><circle cx="155.36" cy="73.00" r="3.0" fill="#b60024" fill-opacity="0.72"/><circle cx="201.16" cy="73.00" r="3.0" fill="#b60024" fill-opacity="0.72"/><circle cx="210.32" cy="73.00" r="3.0" fill="#b60024" fill-opacity="0.72"/><circle cx="228.64" cy="73.00" r="3.0" fill="#b60024" fill-opacity="0.72"/><circle cx="77.50" cy="77.00" r="3.0" fill="#b60024" fill-opacity="0.72"/><circle cx="164.52" cy="77.00" r="3.0" fill="#b60024" fill-opacity="0.72"/><circle cx="214.90" cy="77.00" r="3.0" fill="#b60024" fill-opacity="0.72"/><circle cx="489.70" cy="77.00" r="3.0" fill="#b60024" fill-opacity="0.72"/><circle cx="50.02" cy="81.00" r="3.0" fill="#b60024" fill-opacity="0.72"/><circle cx="100.40" cy="81.00" r="3.0" fill="#b60024" fill-opacity="0.72"/><circle cx="127.88" cy="81.00" r="3.0" fill="#b60024" fill-opacity="0.72"/><circle cx="178.26" cy="81.00" r="3.0" fill="#b60024" fill-opacity="0.72"/><circle cx="297.34" cy="81.00" r="3.0" fill="#b60024" fill-opacity="0.72"/><circle cx="489.70" cy="81.00" r="3.0" fill="#b60024" fill-opacity="0.72"/><circle cx="109.56" cy="85.00" r="3.0" fill="#b60024" fill-opacity="0.72"/><circle cx="123.30" cy="85.00" r="3.0" fill="#b60024" fill-opacity="0.72"/><circle cx="132.46" cy="85.00" r="3.0" fill="#b60024" fill-opacity="0.72"/><circle cx="178.26" cy="85.00" r="3.0" fill="#b60024" fill-opacity="0.72"/><circle cx="205.74" cy="85.00" r="3.0" fill="#b60024" fill-opacity="0.72"/><circle cx="297.34" cy="85.00" r="3.0" fill="#b60024" fill-opacity="0.72"/><circle cx="320.24" cy="85.00" r="3.0" fill="#b60024" fill-opacity="0.72"/><circle cx="498.86" cy="85.00" r="3.0" fill="#b60024" fill-opacity="0.72"/><circle cx="503.44" cy="85.00" r="3.0" fill="#b60024" fill-opacity="0.72"/><circle cx="50.02" cy="89.00" r="3.0" fill="#b60024" fill-opacity="0.72"/><circle cx="173.68" cy="89.00" r="3.0" fill="#b60024" fill-opacity="0.72"/><circle cx="219.48" cy="89.00" r="3.0" fill="#b60024" fill-opacity="0.72"/><circle cx="237.80" cy="89.00" r="3.0" fill="#b60024" fill-opacity="0.72"/><circle cx="283.60" cy="89.00" r="3.0" fill="#b60024" fill-opacity="0.72"/><circle cx="324.82" cy="89.00" r="3.0" fill="#b60024" fill-opacity="0.72"/><circle cx="329.40" cy="89.00" r="3.0" fill="#b60024" fill-opacity="0.72"/><circle cx="333.98" cy="89.00" r="3.0" fill="#b60024" fill-opacity="0.72"/><circle cx="338.56" cy="89.00" r="3.0" fill="#b60024" fill-opacity="0.72"/><circle cx="343.14" cy="89.00" r="3.0" fill="#b60024" fill-opacity="0.72"/><circle cx="485.12" cy="89.00" r="3.0" fill="#b60024" fill-opacity="0.72"/><circle cx="494.28" cy="89.00" r="3.0" fill="#b60024" fill-opacity="0.72"/><circle cx="512.60" cy="89.00" r="3.0" fill="#b60024" fill-opacity="0.72"/><circle cx="521.76" cy="89.00" r="3.0" fill="#b60024" fill-opacity="0.72"/><circle cx="123.30" cy="93.00" r="3.0" fill="#b60024" fill-opacity="0.72"/><circle cx="137.04" cy="93.00" r="3.0" fill="#b60024" fill-opacity="0.72"/><circle cx="164.52" cy="93.00" r="3.0" fill="#b60024" fill-opacity="0.72"/><circle cx="182.84" cy="93.00" r="3.0" fill="#b60024" fill-opacity="0.72"/><circle cx="210.32" cy="93.00" r="3.0" fill="#b60024" fill-opacity="0.72"/><circle cx="297.34" cy="93.00" r="3.0" fill="#b60024" fill-opacity="0.72"/><circle cx="311.08" cy="93.00" r="3.0" fill="#b60024" fill-opacity="0.72"/><circle cx="333.98" cy="93.00" r="3.0" fill="#b60024" fill-opacity="0.72"/><circle cx="475.96" cy="93.00" r="3.0" fill="#b60024" fill-opacity="0.72"/><circle cx="503.44" cy="93.00" r="3.0" fill="#b60024" fill-opacity="0.72"/><circle cx="201.16" cy="97.00" r="3.0" fill="#b60024" fill-opacity="0.72"/><circle cx="210.32" cy="97.00" r="3.0" fill="#b60024" fill-opacity="0.72"/><circle cx="301.92" cy="97.00" r="3.0" fill="#b60024" fill-opacity="0.72"/><circle cx="453.06" cy="97.00" r="3.0" fill="#b60024" fill-opacity="0.72"/><circle cx="462.22" cy="97.00" r="3.0" fill="#b60024" fill-opacity="0.72"/><circle cx="77.50" cy="101.00" r="3.0" fill="#b60024" fill-opacity="0.72"/><circle cx="86.66" cy="101.00" r="3.0" fill="#b60024" fill-opacity="0.72"/><circle cx="91.24" cy="101.00" r="3.0" fill="#b60024" fill-opacity="0.72"/><circle cx="95.82" cy="101.00" r="3.0" fill="#b60024" fill-opacity="0.72"/><circle cx="114.14" cy="101.00" r="3.0" fill="#b60024" fill-opacity="0.72"/><circle cx="155.36" cy="101.00" r="3.0" fill="#b60024" fill-opacity="0.72"/><circle cx="164.52" cy="101.00" r="3.0" fill="#b60024" fill-opacity="0.72"/><circle cx="214.90" cy="101.00" r="3.0" fill="#b60024" fill-opacity="0.72"/><circle cx="256.12" cy="101.00" r="3.0" fill="#b60024" fill-opacity="0.72"/><circle cx="260.70" cy="101.00" r="3.0" fill="#b60024" fill-opacity="0.72"/><circle cx="269.86" cy="101.00" r="3.0" fill="#b60024" fill-opacity="0.72"/><circle cx="274.44" cy="101.00" r="3.0" fill="#b60024" fill-opacity="0.72"/><circle cx="283.60" cy="101.00" r="3.0" fill="#b60024" fill-opacity="0.72"/><circle cx="411.84" cy="101.00" r="3.0" fill="#b60024" fill-opacity="0.72"/><circle cx="466.80" cy="101.00" r="3.0" fill="#b60024" fill-opacity="0.72"/><circle cx="475.96" cy="101.00" r="3.0" fill="#b60024" fill-opacity="0.72"/><circle cx="489.70" cy="101.00" r="3.0" fill="#b60024" fill-opacity="0.72"/><circle cx="521.76" cy="101.00" r="3.0" fill="#b60024" fill-opacity="0.72"/><circle cx="544.66" cy="101.00" r="3.0" fill="#b60024" fill-opacity="0.72"/><circle cx="59.18" cy="105.00" r="3.0" fill="#b60024" fill-opacity="0.72"/><circle cx="123.30" cy="105.00" r="3.0" fill="#b60024" fill-opacity="0.72"/><circle cx="132.46" cy="105.00" r="3.0" fill="#b60024" fill-opacity="0.72"/><circle cx="141.62" cy="105.00" r="3.0" fill="#b60024" fill-opacity="0.72"/><circle cx="146.20" cy="105.00" r="3.0" fill="#b60024" fill-opacity="0.72"/><circle cx="155.36" cy="105.00" r="3.0" fill="#b60024" fill-opacity="0.72"/><circle cx="164.52" cy="105.00" r="3.0" fill="#b60024" fill-opacity="0.72"/><circle cx="178.26" cy="105.00" r="3.0" fill="#b60024" fill-opacity="0.72"/><circle cx="196.58" cy="105.00" r="3.0" fill="#b60024" fill-opacity="0.72"/><circle cx="233.22" cy="105.00" r="3.0" fill="#b60024" fill-opacity="0.72"/><circle cx="269.86" cy="105.00" r="3.0" fill="#b60024" fill-opacity="0.72"/><circle cx="333.98" cy="105.00" r="3.0" fill="#b60024" fill-opacity="0.72"/><circle cx="356.88" cy="105.00" r="3.0" fill="#b60024" fill-opacity="0.72"/><circle cx="434.74" cy="105.00" r="3.0" fill="#b60024" fill-opacity="0.72"/><circle cx="448.48" cy="105.00" r="3.0" fill="#b60024" fill-opacity="0.72"/><circle cx="466.80" cy="105.00" r="3.0" fill="#b60024" fill-opacity="0.72"/><circle cx="512.60" cy="105.00" r="3.0" fill="#b60024" fill-opacity="0.72"/><circle cx="82.08" cy="109.00" r="3.0" fill="#b60024" fill-opacity="0.72"/><circle cx="114.14" cy="109.00" r="3.0" fill="#b60024" fill-opacity="0.72"/><circle cx="123.30" cy="109.00" r="3.0" fill="#b60024" fill-opacity="0.72"/><circle cx="132.46" cy="109.00" r="3.0" fill="#b60024" fill-opacity="0.72"/><circle cx="178.26" cy="109.00" r="3.0" fill="#b60024" fill-opacity="0.72"/><circle cx="187.42" cy="109.00" r="3.0" fill="#b60024" fill-opacity="0.72"/><circle cx="201.16" cy="109.00" r="3.0" fill="#b60024" fill-opacity="0.72"/><circle cx="233.22" cy="109.00" r="3.0" fill="#b60024" fill-opacity="0.72"/><circle cx="246.96" cy="109.00" r="3.0" fill="#b60024" fill-opacity="0.72"/><circle cx="274.44" cy="109.00" r="3.0" fill="#b60024" fill-opacity="0.72"/><circle cx="297.34" cy="109.00" r="3.0" fill="#b60024" fill-opacity="0.72"/><circle cx="301.92" cy="109.00" r="3.0" fill="#b60024" fill-opacity="0.72"/><circle cx="306.50" cy="109.00" r="3.0" fill="#b60024" fill-opacity="0.72"/><circle cx="329.40" cy="109.00" r="3.0" fill="#b60024" fill-opacity="0.72"/><circle cx="366.04" cy="109.00" r="3.0" fill="#b60024" fill-opacity="0.72"/><circle cx="375.20" cy="109.00" r="3.0" fill="#b60024" fill-opacity="0.72"/><circle cx="402.68" cy="109.00" r="3.0" fill="#b60024" fill-opacity="0.72"/><circle cx="421.00" cy="109.00" r="3.0" fill="#b60024" fill-opacity="0.72"/><circle cx="439.32" cy="109.00" r="3.0" fill="#b60024" fill-opacity="0.72"/><circle cx="448.48" cy="109.00" r="3.0" fill="#b60024" fill-opacity="0.72"/><circle cx="118.72" cy="113.00" r="3.0" fill="#b60024" fill-opacity="0.72"/><circle cx="141.62" cy="113.00" r="3.0" fill="#b60024" fill-opacity="0.72"/><circle cx="228.64" cy="113.00" r="3.0" fill="#b60024" fill-opacity="0.72"/><circle cx="242.38" cy="113.00" r="3.0" fill="#b60024" fill-opacity="0.72"/><circle cx="246.96" cy="113.00" r="3.0" fill="#b60024" fill-opacity="0.72"/><circle cx="260.70" cy="113.00" r="3.0" fill="#b60024" fill-opacity="0.72"/><circle cx="274.44" cy="113.00" r="3.0" fill="#b60024" fill-opacity="0.72"/><circle cx="311.08" cy="113.00" r="3.0" fill="#b60024" fill-opacity="0.72"/><circle cx="320.24" cy="113.00" r="3.0" fill="#b60024" fill-opacity="0.72"/><circle cx="343.14" cy="113.00" r="3.0" fill="#b60024" fill-opacity="0.72"/><circle cx="398.10" cy="113.00" r="3.0" fill="#b60024" fill-opacity="0.72"/><circle cx="132.46" cy="117.00" r="3.0" fill="#b60024" fill-opacity="0.72"/><circle cx="311.08" cy="117.00" r="3.0" fill="#b60024" fill-opacity="0.72"/><circle cx="416.42" cy="117.00" r="3.0" fill="#b60024" fill-opacity="0.72"/><circle cx="434.74" cy="117.00" r="3.0" fill="#b60024" fill-opacity="0.72"/><circle cx="40.86" cy="121.00" r="3.0" fill="#b60024" fill-opacity="0.72"/><circle cx="63.76" cy="121.00" r="3.0" fill="#b60024" fill-opacity="0.72"/><circle cx="77.50" cy="121.00" r="3.0" fill="#b60024" fill-opacity="0.72"/><circle cx="91.24" cy="121.00" r="3.0" fill="#b60024" fill-opacity="0.72"/><circle cx="114.14" cy="121.00" r="3.0" fill="#b60024" fill-opacity="0.72"/><circle cx="205.74" cy="121.00" r="3.0" fill="#b60024" fill-opacity="0.72"/><circle cx="214.90" cy="121.00" r="3.0" fill="#b60024" fill-opacity="0.72"/><circle cx="246.96" cy="121.00" r="3.0" fill="#b60024" fill-opacity="0.72"/><circle cx="279.02" cy="121.00" r="3.0" fill="#b60024" fill-opacity="0.72"/><circle cx="283.60" cy="121.00" r="3.0" fill="#b60024" fill-opacity="0.72"/><circle cx="292.76" cy="121.00" r="3.0" fill="#b60024" fill-opacity="0.72"/><circle cx="421.00" cy="121.00" r="3.0" fill="#b60024" fill-opacity="0.72"/><circle cx="63.76" cy="125.00" r="3.0" fill="#b60024" fill-opacity="0.72"/><circle cx="91.24" cy="125.00" r="3.0" fill="#b60024" fill-opacity="0.72"/><circle cx="141.62" cy="125.00" r="3.0" fill="#b60024" fill-opacity="0.72"/><circle cx="150.78" cy="125.00" r="3.0" fill="#b60024" fill-opacity="0.72"/><circle cx="173.68" cy="125.00" r="3.0" fill="#b60024" fill-opacity="0.72"/><circle cx="192.00" cy="125.00" r="3.0" fill="#b60024" fill-opacity="0.72"/><circle cx="233.22" cy="125.00" r="3.0" fill="#b60024" fill-opacity="0.72"/><circle cx="251.54" cy="125.00" r="3.0" fill="#b60024" fill-opacity="0.72"/><circle cx="283.60" cy="125.00" r="3.0" fill="#b60024" fill-opacity="0.72"/><circle cx="288.18" cy="125.00" r="3.0" fill="#b60024" fill-opacity="0.72"/><circle cx="315.66" cy="125.00" r="3.0" fill="#b60024" fill-opacity="0.72"/><circle cx="439.32" cy="125.00" r="3.0" fill="#b60024" fill-opacity="0.72"/><circle cx="72.92" cy="129.00" r="3.0" fill="#b60024" fill-opacity="0.72"/><circle cx="86.66" cy="129.00" r="3.0" fill="#b60024" fill-opacity="0.72"/><circle cx="95.82" cy="129.00" r="3.0" fill="#b60024" fill-opacity="0.72"/><circle cx="114.14" cy="129.00" r="3.0" fill="#b60024" fill-opacity="0.72"/><circle cx="155.36" cy="129.00" r="3.0" fill="#b60024" fill-opacity="0.72"/><circle cx="246.96" cy="129.00" r="3.0" fill="#b60024" fill-opacity="0.72"/><circle cx="279.02" cy="129.00" r="3.0" fill="#b60024" fill-opacity="0.72"/><circle cx="292.76" cy="129.00" r="3.0" fill="#b60024" fill-opacity="0.72"/><circle cx="311.08" cy="129.00" r="3.0" fill="#b60024" fill-opacity="0.72"/><circle cx="338.56" cy="129.00" r="3.0" fill="#b60024" fill-opacity="0.72"/><circle cx="352.30" cy="129.00" r="3.0" fill="#b60024" fill-opacity="0.72"/><circle cx="388.94" cy="129.00" r="3.0" fill="#b60024" fill-opacity="0.72"/><circle cx="407.26" cy="129.00" r="3.0" fill="#b60024" fill-opacity="0.72"/><circle cx="50.02" cy="133.00" r="3.0" fill="#b60024" fill-opacity="0.72"/><circle cx="63.76" cy="133.00" r="3.0" fill="#b60024" fill-opacity="0.72"/><circle cx="86.66" cy="133.00" r="3.0" fill="#b60024" fill-opacity="0.72"/><circle cx="109.56" cy="133.00" r="3.0" fill="#b60024" fill-opacity="0.72"/><circle cx="150.78" cy="133.00" r="3.0" fill="#b60024" fill-opacity="0.72"/><circle cx="242.38" cy="133.00" r="3.0" fill="#b60024" fill-opacity="0.72"/><circle cx="297.34" cy="133.00" r="3.0" fill="#b60024" fill-opacity="0.72"/><circle cx="311.08" cy="133.00" r="3.0" fill="#b60024" fill-opacity="0.72"/><circle cx="320.24" cy="133.00" r="3.0" fill="#b60024" fill-opacity="0.72"/><circle cx="375.20" cy="133.00" r="3.0" fill="#b60024" fill-opacity="0.72"/><circle cx="439.32" cy="133.00" r="3.0" fill="#b60024" fill-opacity="0.72"/><circle cx="104.98" cy="137.00" r="3.0" fill="#b60024" fill-opacity="0.72"/><circle cx="127.88" cy="137.00" r="3.0" fill="#b60024" fill-opacity="0.72"/><circle cx="169.10" cy="137.00" r="3.0" fill="#b60024" fill-opacity="0.72"/><circle cx="178.26" cy="137.00" r="3.0" fill="#b60024" fill-opacity="0.72"/><circle cx="196.58" cy="137.00" r="3.0" fill="#b60024" fill-opacity="0.72"/><circle cx="256.12" cy="137.00" r="3.0" fill="#b60024" fill-opacity="0.72"/><circle cx="265.28" cy="137.00" r="3.0" fill="#b60024" fill-opacity="0.72"/><circle cx="288.18" cy="137.00" r="3.0" fill="#b60024" fill-opacity="0.72"/><circle cx="338.56" cy="137.00" r="3.0" fill="#b60024" fill-opacity="0.72"/><circle cx="384.36" cy="137.00" r="3.0" fill="#b60024" fill-opacity="0.72"/><circle cx="398.10" cy="137.00" r="3.0" fill="#b60024" fill-opacity="0.72"/><circle cx="407.26" cy="137.00" r="3.0" fill="#b60024" fill-opacity="0.72"/><circle cx="86.66" cy="141.00" r="3.0" fill="#b60024" fill-opacity="0.72"/><circle cx="95.82" cy="141.00" r="3.0" fill="#b60024" fill-opacity="0.72"/><circle cx="150.78" cy="141.00" r="3.0" fill="#b60024" fill-opacity="0.72"/><circle cx="178.26" cy="141.00" r="3.0" fill="#b60024" fill-opacity="0.72"/><circle cx="233.22" cy="141.00" r="3.0" fill="#b60024" fill-opacity="0.72"/><circle cx="343.14" cy="141.00" r="3.0" fill="#b60024" fill-opacity="0.72"/><circle cx="352.30" cy="141.00" r="3.0" fill="#b60024" fill-opacity="0.72"/><circle cx="402.68" cy="141.00" r="3.0" fill="#b60024" fill-opacity="0.72"/><circle cx="434.74" cy="141.00" r="3.0" fill="#b60024" fill-opacity="0.72"/><circle cx="439.32" cy="141.00" r="3.0" fill="#b60024" fill-opacity="0.72"/><circle cx="50.02" cy="145.00" r="3.0" fill="#b60024" fill-opacity="0.72"/><circle cx="63.76" cy="145.00" r="3.0" fill="#b60024" fill-opacity="0.72"/><circle cx="127.88" cy="145.00" r="3.0" fill="#b60024" fill-opacity="0.72"/><circle cx="132.46" cy="145.00" r="3.0" fill="#b60024" fill-opacity="0.72"/><circle cx="219.48" cy="145.00" r="3.0" fill="#b60024" fill-opacity="0.72"/><circle cx="269.86" cy="145.00" r="3.0" fill="#b60024" fill-opacity="0.72"/><circle cx="274.44" cy="145.00" r="3.0" fill="#b60024" fill-opacity="0.72"/><circle cx="320.24" cy="145.00" r="3.0" fill="#b60024" fill-opacity="0.72"/><circle cx="86.66" cy="149.00" r="3.0" fill="#b60024" fill-opacity="0.72"/><circle cx="100.40" cy="149.00" r="3.0" fill="#b60024" fill-opacity="0.72"/><circle cx="104.98" cy="149.00" r="3.0" fill="#b60024" fill-opacity="0.72"/><circle cx="109.56" cy="149.00" r="3.0" fill="#b60024" fill-opacity="0.72"/><circle cx="127.88" cy="149.00" r="3.0" fill="#b60024" fill-opacity="0.72"/><circle cx="178.26" cy="149.00" r="3.0" fill="#b60024" fill-opacity="0.72"/><circle cx="192.00" cy="149.00" r="3.0" fill="#b60024" fill-opacity="0.72"/><circle cx="201.16" cy="149.00" r="3.0" fill="#b60024" fill-opacity="0.72"/><circle cx="228.64" cy="149.00" r="3.0" fill="#b60024" fill-opacity="0.72"/><circle cx="356.88" cy="149.00" r="3.0" fill="#b60024" fill-opacity="0.72"/><circle cx="384.36" cy="149.00" r="3.0" fill="#b60024" fill-opacity="0.72"/><circle cx="416.42" cy="149.00" r="3.0" fill="#b60024" fill-opacity="0.72"/><circle cx="430.16" cy="149.00" r="3.0" fill="#b60024" fill-opacity="0.72"/><circle cx="72.92" cy="153.00" r="3.0" fill="#b60024" fill-opacity="0.72"/><circle cx="100.40" cy="153.00" r="3.0" fill="#b60024" fill-opacity="0.72"/><circle cx="123.30" cy="153.00" r="3.0" fill="#b60024" fill-opacity="0.72"/><circle cx="127.88" cy="153.00" r="3.0" fill="#b60024" fill-opacity="0.72"/><circle cx="132.46" cy="153.00" r="3.0" fill="#b60024" fill-opacity="0.72"/><circle cx="150.78" cy="153.00" r="3.0" fill="#b60024" fill-opacity="0.72"/><circle cx="178.26" cy="153.00" r="3.0" fill="#b60024" fill-opacity="0.72"/><circle cx="187.42" cy="153.00" r="3.0" fill="#b60024" fill-opacity="0.72"/><circle cx="375.20" cy="153.00" r="3.0" fill="#b60024" fill-opacity="0.72"/><circle cx="430.16" cy="153.00" r="3.0" fill="#b60024" fill-opacity="0.72"/><circle cx="59.18" cy="157.00" r="3.0" fill="#b60024" fill-opacity="0.72"/><circle cx="100.40" cy="157.00" r="3.0" fill="#b60024" fill-opacity="0.72"/><circle cx="50.02" cy="161.00" r="3.0" fill="#b60024" fill-opacity="0.72"/><circle cx="63.76" cy="161.00" r="3.0" fill="#b60024" fill-opacity="0.72"/><circle cx="68.34" cy="165.00" r="3.0" fill="#b60024" fill-opacity="0.72"/><circle cx="72.92" cy="165.00" r="3.0" fill="#b60024" fill-opacity="0.72"/><circle cx="54.60" cy="169.00" r="3.0" fill="#b60024" fill-opacity="0.72"/><circle cx="164.52" cy="45.00" r="3.0" fill="#141e8c" fill-opacity="0.85"/><circle cx="182.84" cy="45.00" r="3.0" fill="#141e8c" fill-opacity="0.85"/><circle cx="201.16" cy="45.00" r="3.0" fill="#141e8c" fill-opacity="0.85"/><circle cx="82.08" cy="57.00" r="3.0" fill="#141e8c" fill-opacity="0.85"/><circle cx="86.66" cy="57.00" r="3.0" fill="#141e8c" fill-opacity="0.85"/><circle cx="178.26" cy="61.00" r="3.0" fill="#141e8c" fill-opacity="0.85"/><circle cx="104.98" cy="65.00" r="3.0" fill="#141e8c" fill-opacity="0.85"/><circle cx="233.22" cy="65.00" r="3.0" fill="#141e8c" fill-opacity="0.85"/><circle cx="68.34" cy="69.00" r="3.0" fill="#141e8c" fill-opacity="0.85"/><circle cx="77.50" cy="69.00" r="3.0" fill="#141e8c" fill-opacity="0.85"/><circle cx="242.38" cy="69.00" r="3.0" fill="#141e8c" fill-opacity="0.85"/><circle cx="91.24" cy="73.00" r="3.0" fill="#141e8c" fill-opacity="0.85"/><circle cx="50.02" cy="77.00" r="3.0" fill="#141e8c" fill-opacity="0.85"/><circle cx="196.58" cy="77.00" r="3.0" fill="#141e8c" fill-opacity="0.85"/><circle cx="260.70" cy="77.00" r="3.0" fill="#141e8c" fill-opacity="0.85"/><circle cx="150.78" cy="81.00" r="3.0" fill="#141e8c" fill-opacity="0.85"/><circle cx="228.64" cy="81.00" r="3.0" fill="#141e8c" fill-opacity="0.85"/><circle cx="256.12" cy="81.00" r="3.0" fill="#141e8c" fill-opacity="0.85"/><circle cx="315.66" cy="81.00" r="3.0" fill="#141e8c" fill-opacity="0.85"/><circle cx="508.02" cy="81.00" r="3.0" fill="#141e8c" fill-opacity="0.85"/><circle cx="118.72" cy="85.00" r="3.0" fill="#141e8c" fill-opacity="0.85"/><circle cx="45.44" cy="89.00" r="3.0" fill="#141e8c" fill-opacity="0.85"/><circle cx="251.54" cy="89.00" r="3.0" fill="#141e8c" fill-opacity="0.85"/><circle cx="242.38" cy="93.00" r="3.0" fill="#141e8c" fill-opacity="0.85"/><circle cx="36.28" cy="97.00" r="3.0" fill="#141e8c" fill-opacity="0.85"/><circle cx="95.82" cy="97.00" r="3.0" fill="#141e8c" fill-opacity="0.85"/><circle cx="205.74" cy="97.00" r="3.0" fill="#141e8c" fill-opacity="0.85"/><circle cx="256.12" cy="97.00" r="3.0" fill="#141e8c" fill-opacity="0.85"/><circle cx="333.98" cy="97.00" r="3.0" fill="#141e8c" fill-opacity="0.85"/><circle cx="182.84" cy="101.00" r="3.0" fill="#141e8c" fill-opacity="0.85"/><circle cx="421.00" cy="101.00" r="3.0" fill="#141e8c" fill-opacity="0.85"/><circle cx="45.44" cy="105.00" r="3.0" fill="#141e8c" fill-opacity="0.85"/><circle cx="100.40" cy="105.00" r="3.0" fill="#141e8c" fill-opacity="0.85"/><circle cx="82.08" cy="113.00" r="3.0" fill="#141e8c" fill-opacity="0.85"/><circle cx="434.74" cy="113.00" r="3.0" fill="#141e8c" fill-opacity="0.85"/><circle cx="123.30" cy="117.00" r="3.0" fill="#141e8c" fill-opacity="0.85"/><circle cx="246.96" cy="117.00" r="3.0" fill="#141e8c" fill-opacity="0.85"/><circle cx="356.88" cy="121.00" r="3.0" fill="#141e8c" fill-opacity="0.85"/><circle cx="398.10" cy="121.00" r="3.0" fill="#141e8c" fill-opacity="0.85"/><circle cx="59.18" cy="125.00" r="3.0" fill="#141e8c" fill-opacity="0.85"/><circle cx="178.26" cy="129.00" r="3.0" fill="#141e8c" fill-opacity="0.85"/><circle cx="269.86" cy="129.00" r="3.0" fill="#141e8c" fill-opacity="0.85"/><circle cx="315.66" cy="129.00" r="3.0" fill="#141e8c" fill-opacity="0.85"/><circle cx="320.24" cy="129.00" r="3.0" fill="#141e8c" fill-opacity="0.85"/><circle cx="36.28" cy="133.00" r="3.0" fill="#141e8c" fill-opacity="0.85"/><circle cx="246.96" cy="133.00" r="3.0" fill="#141e8c" fill-opacity="0.85"/><circle cx="453.06" cy="133.00" r="3.0" fill="#141e8c" fill-opacity="0.85"/><circle cx="132.46" cy="137.00" r="3.0" fill="#141e8c" fill-opacity="0.85"/><circle cx="219.48" cy="137.00" r="3.0" fill="#141e8c" fill-opacity="0.85"/><circle cx="297.34" cy="141.00" r="3.0" fill="#141e8c" fill-opacity="0.85"/><circle cx="214.90" cy="145.00" r="3.0" fill="#141e8c" fill-opacity="0.85"/><circle cx="384.36" cy="145.00" r="3.0" fill="#141e8c" fill-opacity="0.85"/><circle cx="398.10" cy="157.00" r="3.0" fill="#141e8c" fill-opacity="0.85"/><circle cx="416.42" cy="157.00" r="3.0" fill="#141e8c" fill-opacity="0.85"/><circle cx="141.62" cy="45.00" r="3.0" fill="#94001a" fill-opacity="0.87"/><circle cx="187.42" cy="45.00" r="3.0" fill="#94001a" fill-opacity="0.87"/><circle cx="178.26" cy="49.00" r="3.0" fill="#94001a" fill-opacity="0.87"/><circle cx="192.00" cy="53.00" r="3.0" fill="#94001a" fill-opacity="0.87"/><circle cx="123.30" cy="57.00" r="3.0" fill="#94001a" fill-opacity="0.87"/><circle cx="192.00" cy="57.00" r="3.0" fill="#94001a" fill-opacity="0.87"/><circle cx="82.08" cy="61.00" r="3.0" fill="#94001a" fill-opacity="0.87"/><circle cx="182.84" cy="61.00" r="3.0" fill="#94001a" fill-opacity="0.87"/><circle cx="260.70" cy="61.00" r="3.0" fill="#94001a" fill-opacity="0.87"/><circle cx="265.28" cy="61.00" r="3.0" fill="#94001a" fill-opacity="0.87"/><circle cx="132.46" cy="65.00" r="3.0" fill="#94001a" fill-opacity="0.87"/><circle cx="178.26" cy="65.00" r="3.0" fill="#94001a" fill-opacity="0.87"/><circle cx="123.30" cy="69.00" r="3.0" fill="#94001a" fill-opacity="0.87"/><circle cx="210.32" cy="69.00" r="3.0" fill="#94001a" fill-opacity="0.87"/><circle cx="265.28" cy="69.00" r="3.0" fill="#94001a" fill-opacity="0.87"/><circle cx="63.76" cy="73.00" r="3.0" fill="#94001a" fill-opacity="0.87"/><circle cx="123.30" cy="77.00" r="3.0" fill="#94001a" fill-opacity="0.87"/><circle cx="104.98" cy="81.00" r="3.0" fill="#94001a" fill-opacity="0.87"/><circle cx="242.38" cy="81.00" r="3.0" fill="#94001a" fill-opacity="0.87"/><circle cx="214.90" cy="85.00" r="3.0" fill="#94001a" fill-opacity="0.87"/><circle cx="40.86" cy="89.00" r="3.0" fill="#94001a" fill-opacity="0.87"/><circle cx="187.42" cy="89.00" r="3.0" fill="#94001a" fill-opacity="0.87"/><circle cx="205.74" cy="89.00" r="3.0" fill="#94001a" fill-opacity="0.87"/><circle cx="260.70" cy="89.00" r="3.0" fill="#94001a" fill-opacity="0.87"/><circle cx="169.10" cy="93.00" r="3.0" fill="#94001a" fill-opacity="0.87"/><circle cx="205.74" cy="93.00" r="3.0" fill="#94001a" fill-opacity="0.87"/><circle cx="466.80" cy="93.00" r="3.0" fill="#94001a" fill-opacity="0.87"/><circle cx="485.12" cy="93.00" r="3.0" fill="#94001a" fill-opacity="0.87"/><circle cx="324.82" cy="97.00" r="3.0" fill="#94001a" fill-opacity="0.87"/><circle cx="45.44" cy="101.00" r="3.0" fill="#94001a" fill-opacity="0.87"/><circle cx="169.10" cy="101.00" r="3.0" fill="#94001a" fill-opacity="0.87"/><circle cx="192.00" cy="101.00" r="3.0" fill="#94001a" fill-opacity="0.87"/><circle cx="233.22" cy="101.00" r="3.0" fill="#94001a" fill-opacity="0.87"/><circle cx="251.54" cy="101.00" r="3.0" fill="#94001a" fill-opacity="0.87"/><circle cx="443.90" cy="101.00" r="3.0" fill="#94001a" fill-opacity="0.87"/><circle cx="457.64" cy="101.00" r="3.0" fill="#94001a" fill-opacity="0.87"/><circle cx="68.34" cy="105.00" r="3.0" fill="#94001a" fill-opacity="0.87"/><circle cx="77.50" cy="105.00" r="3.0" fill="#94001a" fill-opacity="0.87"/><circle cx="82.08" cy="105.00" r="3.0" fill="#94001a" fill-opacity="0.87"/><circle cx="224.06" cy="105.00" r="3.0" fill="#94001a" fill-opacity="0.87"/><circle cx="228.64" cy="105.00" r="3.0" fill="#94001a" fill-opacity="0.87"/><circle cx="489.70" cy="105.00" r="3.0" fill="#94001a" fill-opacity="0.87"/><circle cx="63.76" cy="109.00" r="3.0" fill="#94001a" fill-opacity="0.87"/><circle cx="137.04" cy="109.00" r="3.0" fill="#94001a" fill-opacity="0.87"/><circle cx="333.98" cy="109.00" r="3.0" fill="#94001a" fill-opacity="0.87"/><circle cx="338.56" cy="109.00" r="3.0" fill="#94001a" fill-opacity="0.87"/><circle cx="352.30" cy="109.00" r="3.0" fill="#94001a" fill-opacity="0.87"/><circle cx="475.96" cy="109.00" r="3.0" fill="#94001a" fill-opacity="0.87"/><circle cx="517.18" cy="109.00" r="3.0" fill="#94001a" fill-opacity="0.87"/><circle cx="72.92" cy="113.00" r="3.0" fill="#94001a" fill-opacity="0.87"/><circle cx="146.20" cy="113.00" r="3.0" fill="#94001a" fill-opacity="0.87"/><circle cx="315.66" cy="113.00" r="3.0" fill="#94001a" fill-opacity="0.87"/><circle cx="361.46" cy="113.00" r="3.0" fill="#94001a" fill-opacity="0.87"/><circle cx="411.84" cy="113.00" r="3.0" fill="#94001a" fill-opacity="0.87"/><circle cx="63.76" cy="117.00" r="3.0" fill="#94001a" fill-opacity="0.87"/><circle cx="118.72" cy="117.00" r="3.0" fill="#94001a" fill-opacity="0.87"/><circle cx="137.04" cy="117.00" r="3.0" fill="#94001a" fill-opacity="0.87"/><circle cx="219.48" cy="117.00" r="3.0" fill="#94001a" fill-opacity="0.87"/><circle cx="86.66" cy="121.00" r="3.0" fill="#94001a" fill-opacity="0.87"/><circle cx="146.20" cy="121.00" r="3.0" fill="#94001a" fill-opacity="0.87"/><circle cx="297.34" cy="121.00" r="3.0" fill="#94001a" fill-opacity="0.87"/><circle cx="393.52" cy="121.00" r="3.0" fill="#94001a" fill-opacity="0.87"/><circle cx="72.92" cy="125.00" r="3.0" fill="#94001a" fill-opacity="0.87"/><circle cx="169.10" cy="125.00" r="3.0" fill="#94001a" fill-opacity="0.87"/><circle cx="182.84" cy="125.00" r="3.0" fill="#94001a" fill-opacity="0.87"/><circle cx="324.82" cy="125.00" r="3.0" fill="#94001a" fill-opacity="0.87"/><circle cx="370.62" cy="125.00" r="3.0" fill="#94001a" fill-opacity="0.87"/><circle cx="205.74" cy="129.00" r="3.0" fill="#94001a" fill-opacity="0.87"/><circle cx="242.38" cy="129.00" r="3.0" fill="#94001a" fill-opacity="0.87"/><circle cx="127.88" cy="133.00" r="3.0" fill="#94001a" fill-opacity="0.87"/><circle cx="251.54" cy="133.00" r="3.0" fill="#94001a" fill-opacity="0.87"/><circle cx="315.66" cy="133.00" r="3.0" fill="#94001a" fill-opacity="0.87"/><circle cx="448.48" cy="133.00" r="3.0" fill="#94001a" fill-opacity="0.87"/><circle cx="356.88" cy="137.00" r="3.0" fill="#94001a" fill-opacity="0.87"/><circle cx="434.74" cy="137.00" r="3.0" fill="#94001a" fill-opacity="0.87"/><circle cx="59.18" cy="141.00" r="3.0" fill="#94001a" fill-opacity="0.87"/><circle cx="91.24" cy="141.00" r="3.0" fill="#94001a" fill-opacity="0.87"/><circle cx="246.96" cy="141.00" r="3.0" fill="#94001a" fill-opacity="0.87"/><circle cx="361.46" cy="141.00" r="3.0" fill="#94001a" fill-opacity="0.87"/><circle cx="45.44" cy="145.00" r="3.0" fill="#94001a" fill-opacity="0.87"/><circle cx="86.66" cy="145.00" r="3.0" fill="#94001a" fill-opacity="0.87"/><circle cx="187.42" cy="145.00" r="3.0" fill="#94001a" fill-opacity="0.87"/><circle cx="224.06" cy="145.00" r="3.0" fill="#94001a" fill-opacity="0.87"/><circle cx="443.90" cy="145.00" r="3.0" fill="#94001a" fill-opacity="0.87"/><circle cx="59.18" cy="149.00" r="3.0" fill="#94001a" fill-opacity="0.87"/><circle cx="63.76" cy="149.00" r="3.0" fill="#94001a" fill-opacity="0.87"/><circle cx="343.14" cy="149.00" r="3.0" fill="#94001a" fill-opacity="0.87"/><circle cx="379.78" cy="149.00" r="3.0" fill="#94001a" fill-opacity="0.87"/><circle cx="201.16" cy="153.00" r="3.0" fill="#94001a" fill-opacity="0.87"/><circle cx="370.62" cy="153.00" r="3.0" fill="#94001a" fill-opacity="0.87"/><circle cx="421.00" cy="153.00" r="3.0" fill="#94001a" fill-opacity="0.87"/><circle cx="434.74" cy="153.00" r="3.0" fill="#94001a" fill-opacity="0.87"/><circle cx="63.76" cy="157.00" r="3.0" fill="#94001a" fill-opacity="0.87"/><circle cx="402.68" cy="157.00" r="3.0" fill="#94001a" fill-opacity="0.87"/><circle cx="68.34" cy="161.00" r="3.0" fill="#94001a" fill-opacity="0.87"/><circle cx="146.20" cy="49.00" r="3.0" fill="#3c0870" fill-opacity="0.85"/><circle cx="104.98" cy="57.00" r="3.0" fill="#3c0870" fill-opacity="0.85"/><circle cx="146.20" cy="57.00" r="3.0" fill="#3c0870" fill-opacity="0.85"/><circle cx="150.78" cy="69.00" r="3.0" fill="#3c0870" fill-opacity="0.85"/><circle cx="233.22" cy="69.00" r="3.0" fill="#3c0870" fill-opacity="0.85"/><circle cx="59.18" cy="73.00" r="3.0" fill="#3c0870" fill-opacity="0.85"/><circle cx="173.68" cy="73.00" r="3.0" fill="#3c0870" fill-opacity="0.85"/><circle cx="182.84" cy="73.00" r="3.0" fill="#3c0870" fill-opacity="0.85"/><circle cx="219.48" cy="73.00" r="3.0" fill="#3c0870" fill-opacity="0.85"/><circle cx="283.60" cy="81.00" r="3.0" fill="#3c0870" fill-opacity="0.85"/><circle cx="82.08" cy="85.00" r="3.0" fill="#3c0870" fill-opacity="0.85"/><circle cx="146.20" cy="89.00" r="3.0" fill="#3c0870" fill-opacity="0.85"/><circle cx="169.10" cy="89.00" r="3.0" fill="#3c0870" fill-opacity="0.85"/><circle cx="297.34" cy="89.00" r="3.0" fill="#3c0870" fill-opacity="0.85"/><circle cx="164.52" cy="97.00" r="3.0" fill="#3c0870" fill-opacity="0.85"/><circle cx="517.18" cy="97.00" r="3.0" fill="#3c0870" fill-opacity="0.85"/><circle cx="63.76" cy="101.00" r="3.0" fill="#3c0870" fill-opacity="0.85"/><circle cx="159.94" cy="101.00" r="3.0" fill="#3c0870" fill-opacity="0.85"/><circle cx="503.44" cy="101.00" r="3.0" fill="#3c0870" fill-opacity="0.85"/><circle cx="214.90" cy="105.00" r="3.0" fill="#3c0870" fill-opacity="0.85"/><circle cx="407.26" cy="105.00" r="3.0" fill="#3c0870" fill-opacity="0.85"/><circle cx="453.06" cy="105.00" r="3.0" fill="#3c0870" fill-opacity="0.85"/><circle cx="68.34" cy="109.00" r="3.0" fill="#3c0870" fill-opacity="0.85"/><circle cx="123.30" cy="113.00" r="3.0" fill="#3c0870" fill-opacity="0.85"/><circle cx="196.58" cy="113.00" r="3.0" fill="#3c0870" fill-opacity="0.85"/><circle cx="237.80" cy="113.00" r="3.0" fill="#3c0870" fill-opacity="0.85"/><circle cx="457.64" cy="113.00" r="3.0" fill="#3c0870" fill-opacity="0.85"/><circle cx="485.12" cy="113.00" r="3.0" fill="#3c0870" fill-opacity="0.85"/><circle cx="301.92" cy="117.00" r="3.0" fill="#3c0870" fill-opacity="0.85"/><circle cx="352.30" cy="117.00" r="3.0" fill="#3c0870" fill-opacity="0.85"/><circle cx="256.12" cy="121.00" r="3.0" fill="#3c0870" fill-opacity="0.85"/><circle cx="434.74" cy="121.00" r="3.0" fill="#3c0870" fill-opacity="0.85"/><circle cx="100.40" cy="125.00" r="3.0" fill="#3c0870" fill-opacity="0.85"/><circle cx="59.18" cy="129.00" r="3.0" fill="#3c0870" fill-opacity="0.85"/><circle cx="104.98" cy="129.00" r="3.0" fill="#3c0870" fill-opacity="0.85"/><circle cx="192.00" cy="129.00" r="3.0" fill="#3c0870" fill-opacity="0.85"/><circle cx="228.64" cy="129.00" r="3.0" fill="#3c0870" fill-opacity="0.85"/><circle cx="68.34" cy="133.00" r="3.0" fill="#3c0870" fill-opacity="0.85"/><circle cx="361.46" cy="133.00" r="3.0" fill="#3c0870" fill-opacity="0.85"/><circle cx="407.26" cy="133.00" r="3.0" fill="#3c0870" fill-opacity="0.85"/><circle cx="338.56" cy="141.00" r="3.0" fill="#3c0870" fill-opacity="0.85"/><circle cx="283.60" cy="145.00" r="3.0" fill="#3c0870" fill-opacity="0.85"/><circle cx="324.82" cy="145.00" r="3.0" fill="#3c0870" fill-opacity="0.85"/><circle cx="150.78" cy="149.00" r="3.0" fill="#3c0870" fill-opacity="0.85"/><circle cx="40.86" cy="161.00" r="3.0" fill="#3c0870" fill-opacity="0.85"/><circle cx="95.82" cy="161.00" r="3.0" fill="#3c0870" fill-opacity="0.85"/><circle cx="63.76" cy="165.00" r="3.0" fill="#3c0870" fill-opacity="0.85"/></g>
<g stroke="#bdbdbd" stroke-opacity="0.55" stroke-width="1"><line x1="31.4" y1="32" x2="31.4" y2="178"/><line x1="119.6" y1="32" x2="119.6" y2="178"/><line x1="207.8" y1="32" x2="207.8" y2="178"/><line x1="295.9" y1="32" x2="295.9" y2="178"/><line x1="384.1" y1="32" x2="384.1" y2="178"/><line x1="472.3" y1="32" x2="472.3" y2="178"/><line x1="27" y1="168.1" x2="553" y2="168.1"/><line x1="27" y1="146.1" x2="553" y2="146.1"/><line x1="27" y1="124.0" x2="553" y2="124.0"/><line x1="27" y1="102.0" x2="553" y2="102.0"/><line x1="27" y1="79.9" x2="553" y2="79.9"/><line x1="27" y1="57.9" x2="553" y2="57.9"/><line x1="27" y1="35.8" x2="553" y2="35.8"/></g>
</g>
<rect x="27.5" y="32.5" width="526" height="146" fill="none" stroke="#4a4a4a" stroke-width="1.1"/>
<g font-family="DejaVu Sans, sans-serif" font-size="8.1" fill="#262626"><text x="31.4" y="189" text-anchor="middle">95°W</text><text x="119.6" y="189" text-anchor="middle">94°W</text><text x="207.8" y="189" text-anchor="middle">93°W</text><text x="295.9" y="189" text-anchor="middle">92°W</text><text x="384.1" y="189" text-anchor="middle">91°W</text><text x="472.3" y="189" text-anchor="middle">90°W</text><text x="23" y="39.0" text-anchor="end">45′</text><text x="23" y="61.1" text-anchor="end">30′</text><text x="23" y="83.1" text-anchor="end">15′</text><text x="23" y="105.2" text-anchor="end">29°N</text><text x="23" y="127.2" text-anchor="end">45′</text><text x="23" y="149.3" text-anchor="end">30′</text><text x="23" y="171.3" text-anchor="end">15′</text></g>
</g>
<text transform="translate(294.2,232.6) scale(1,1.06)" x="0" y="0" text-anchor="middle" font-family="Liberation Sans, Arial, sans-serif" font-weight="bold" font-size="15" fill="#000">Predicted Hypoxia (STT)</text>
</svg>
</body></html>
